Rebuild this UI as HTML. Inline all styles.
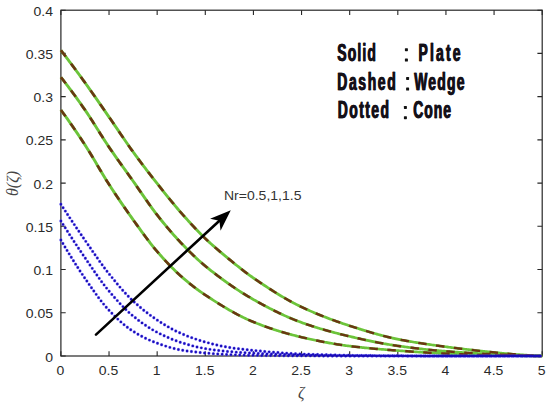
<!DOCTYPE html><html><head><meta charset="utf-8"><style>html,body{margin:0;padding:0;background:#fff;overflow:hidden;}svg{display:block;}</style></head><body><svg width="550" height="407" viewBox="0 0 550 407">
<rect width="550" height="407" fill="#fff"/>
<rect x="60.9" y="10.2" width="481.30" height="345.80" fill="none" stroke="#262626" stroke-width="1.2"/>
<path d="M60.90 356.0 V351.20 M60.90 10.2 V15.00 M109.03 356.0 V351.20 M109.03 10.2 V15.00 M157.16 356.0 V351.20 M157.16 10.2 V15.00 M205.29 356.0 V351.20 M205.29 10.2 V15.00 M253.42 356.0 V351.20 M253.42 10.2 V15.00 M301.55 356.0 V351.20 M301.55 10.2 V15.00 M349.68 356.0 V351.20 M349.68 10.2 V15.00 M397.81 356.0 V351.20 M397.81 10.2 V15.00 M445.94 356.0 V351.20 M445.94 10.2 V15.00 M494.07 356.0 V351.20 M494.07 10.2 V15.00 M542.20 356.0 V351.20 M542.20 10.2 V15.00 M60.9 356.00 H65.70 M542.2 356.00 H537.40 M60.9 312.77 H65.70 M542.2 312.77 H537.40 M60.9 269.55 H65.70 M542.2 269.55 H537.40 M60.9 226.32 H65.70 M542.2 226.32 H537.40 M60.9 183.10 H65.70 M542.2 183.10 H537.40 M60.9 139.88 H65.70 M542.2 139.88 H537.40 M60.9 96.65 H65.70 M542.2 96.65 H537.40 M60.9 53.42 H65.70 M542.2 53.42 H537.40 M60.9 10.20 H65.70 M542.2 10.20 H537.40" stroke="#262626" stroke-width="1.1" fill="none"/>
<g transform="scale(1,0.89)" fill="none">
<path d="M60.90 56.52 L62.11 58.28 L63.31 60.05 L64.52 61.82 L65.73 63.61 L66.93 65.39 L68.14 67.19 L69.34 68.99 L70.55 70.79 L71.76 72.60 L72.96 74.42 L74.17 76.24 L75.38 78.07 L76.58 79.90 L77.79 81.74 L78.99 83.59 L80.20 85.44 L81.41 87.30 L82.61 89.16 L83.82 91.03 L85.03 92.90 L86.23 94.79 L87.44 96.68 L88.64 98.58 L89.85 100.49 L91.06 102.41 L92.26 104.33 L93.47 106.27 L94.68 108.20 L95.88 110.15 L97.09 112.09 L98.29 114.05 L99.50 116.00 L100.71 117.96 L101.91 119.91 L103.12 121.87 L104.33 123.83 L105.53 125.79 L106.74 127.75 L107.94 129.70 L109.15 131.66 L110.36 133.61 L111.56 135.58 L112.77 137.56 L113.98 139.55 L115.18 141.54 L116.39 143.54 L117.59 145.53 L118.80 147.53 L120.01 149.53 L121.21 151.52 L122.42 153.51 L123.63 155.50 L124.83 157.48 L126.04 159.44 L127.24 161.40 L128.45 163.34 L129.66 165.27 L130.86 167.18 L132.07 169.08 L133.28 170.95 L134.48 172.82 L135.69 174.67 L136.89 176.50 L138.10 178.33 L139.31 180.15 L140.51 181.96 L141.72 183.76 L142.93 185.56 L144.13 187.34 L145.34 189.12 L146.54 190.89 L147.75 192.65 L148.96 194.40 L150.16 196.15 L151.37 197.89 L152.58 199.63 L153.78 201.36 L154.99 203.08 L156.19 204.81 L157.40 206.52 L158.61 208.24 L159.81 209.95 L161.02 211.66 L162.23 213.37 L163.43 215.07 L164.64 216.77 L165.85 218.47 L167.05 220.15 L168.26 221.83 L169.46 223.51 L170.67 225.17 L171.88 226.82 L173.08 228.46 L174.29 230.10 L175.50 231.72 L176.70 233.32 L177.91 234.91 L179.11 236.49 L180.32 238.05 L181.53 239.60 L182.73 241.14 L183.94 242.67 L185.15 244.19 L186.35 245.71 L187.56 247.22 L188.76 248.71 L189.97 250.20 L191.18 251.68 L192.38 253.15 L193.59 254.61 L194.80 256.05 L196.00 257.48 L197.21 258.90 L198.41 260.30 L199.62 261.69 L200.83 263.06 L202.03 264.41 L203.24 265.75 L204.45 267.07 L205.65 268.37 L206.86 269.65 L208.06 270.92 L209.27 272.17 L210.48 273.40 L211.68 274.63 L212.89 275.84 L214.10 277.04 L215.30 278.22 L216.51 279.40 L217.71 280.56 L218.92 281.72 L220.13 282.87 L221.33 284.01 L222.54 285.15 L223.75 286.27 L224.95 287.40 L226.16 288.51 L227.36 289.63 L228.57 290.74 L229.78 291.85 L230.98 292.96 L232.19 294.06 L233.40 295.17 L234.60 296.27 L235.81 297.36 L237.01 298.45 L238.22 299.54 L239.43 300.62 L240.63 301.69 L241.84 302.75 L243.05 303.80 L244.25 304.85 L245.46 305.88 L246.66 306.90 L247.87 307.91 L249.08 308.90 L250.28 309.88 L251.49 310.85 L252.70 311.80 L253.90 312.73 L255.11 313.66 L256.32 314.58 L257.52 315.51 L258.73 316.42 L259.93 317.34 L261.14 318.25 L262.35 319.16 L263.55 320.06 L264.76 320.96 L265.97 321.85 L267.17 322.74 L268.38 323.62 L269.58 324.50 L270.79 325.37 L272.00 326.23 L273.20 327.09 L274.41 327.95 L275.62 328.79 L276.82 329.63 L278.03 330.46 L279.23 331.29 L280.44 332.10 L281.65 332.91 L282.85 333.72 L284.06 334.51 L285.27 335.29 L286.47 336.07 L287.68 336.84 L288.88 337.59 L290.09 338.34 L291.30 339.08 L292.50 339.81 L293.71 340.53 L294.92 341.24 L296.12 341.94 L297.33 342.63 L298.53 343.30 L299.74 343.97 L300.95 344.62 L302.15 345.26 L303.36 345.90 L304.57 346.53 L305.77 347.15 L306.98 347.77 L308.18 348.38 L309.39 348.98 L310.60 349.57 L311.80 350.17 L313.01 350.75 L314.22 351.33 L315.42 351.90 L316.63 352.47 L317.83 353.03 L319.04 353.58 L320.25 354.13 L321.45 354.68 L322.66 355.21 L323.87 355.75 L325.07 356.28 L326.28 356.80 L327.48 357.32 L328.69 357.83 L329.90 358.34 L331.10 358.84 L332.31 359.34 L333.52 359.84 L334.72 360.33 L335.93 360.81 L337.13 361.29 L338.34 361.77 L339.55 362.24 L340.75 362.71 L341.96 363.18 L343.17 363.64 L344.37 364.10 L345.58 364.55 L346.78 365.00 L347.99 365.45 L349.20 365.89 L350.40 366.33 L351.61 366.77 L352.82 367.21 L354.02 367.65 L355.23 368.08 L356.44 368.51 L357.64 368.94 L358.85 369.37 L360.05 369.80 L361.26 370.22 L362.47 370.64 L363.67 371.06 L364.88 371.48 L366.09 371.89 L367.29 372.30 L368.50 372.71 L369.70 373.11 L370.91 373.51 L372.12 373.90 L373.32 374.30 L374.53 374.68 L375.74 375.06 L376.94 375.44 L378.15 375.82 L379.35 376.19 L380.56 376.55 L381.77 376.91 L382.97 377.26 L384.18 377.61 L385.39 377.95 L386.59 378.29 L387.80 378.62 L389.00 378.95 L390.21 379.26 L391.42 379.58 L392.62 379.88 L393.83 380.18 L395.04 380.48 L396.24 380.76 L397.45 381.04 L398.65 381.31 L399.86 381.58 L401.07 381.85 L402.27 382.11 L403.48 382.36 L404.69 382.61 L405.89 382.86 L407.10 383.11 L408.30 383.35 L409.51 383.59 L410.72 383.82 L411.92 384.05 L413.13 384.28 L414.34 384.50 L415.54 384.73 L416.75 384.95 L417.95 385.16 L419.16 385.38 L420.37 385.59 L421.57 385.80 L422.78 386.00 L423.99 386.21 L425.19 386.41 L426.40 386.61 L427.60 386.81 L428.81 387.01 L430.02 387.20 L431.22 387.40 L432.43 387.59 L433.64 387.78 L434.84 387.97 L436.05 388.15 L437.25 388.34 L438.46 388.53 L439.67 388.71 L440.87 388.90 L442.08 389.08 L443.29 389.26 L444.49 389.44 L445.70 389.63 L446.91 389.81 L448.11 389.99 L449.32 390.17 L450.52 390.34 L451.73 390.52 L452.94 390.69 L454.14 390.87 L455.35 391.04 L456.56 391.21 L457.76 391.38 L458.97 391.55 L460.17 391.71 L461.38 391.88 L462.59 392.05 L463.79 392.21 L465.00 392.37 L466.21 392.53 L467.41 392.69 L468.62 392.85 L469.82 393.01 L471.03 393.16 L472.24 393.32 L473.44 393.47 L474.65 393.63 L475.86 393.78 L477.06 393.93 L478.27 394.08 L479.47 394.23 L480.68 394.38 L481.89 394.52 L483.09 394.67 L484.30 394.82 L485.51 394.96 L486.71 395.10 L487.92 395.24 L489.12 395.39 L490.33 395.53 L491.54 395.67 L492.74 395.80 L493.95 395.94 L495.16 396.08 L496.36 396.22 L497.57 396.35 L498.77 396.49 L499.98 396.62 L501.19 396.76 L502.39 396.89 L503.60 397.02 L504.81 397.15 L506.01 397.28 L507.22 397.41 L508.42 397.53 L509.63 397.66 L510.84 397.77 L512.04 397.89 L513.25 398.00 L514.46 398.11 L515.66 398.22 L516.87 398.32 L518.07 398.42 L519.28 398.52 L520.49 398.61 L521.69 398.71 L522.90 398.80 L524.11 398.89 L525.31 398.98 L526.52 399.06 L527.72 399.15 L528.93 399.23 L530.14 399.31 L531.34 399.39 L532.55 399.47 L533.76 399.54 L534.96 399.62 L536.17 399.69 L537.37 399.75 L538.58 399.82 L539.79 399.88 L540.99 399.94 L542.20 400.00" stroke="#6cc43a" stroke-width="3.0"/>
<path d="M60.90 86.74 L62.11 88.46 L63.31 90.20 L64.52 91.95 L65.73 93.71 L66.93 95.48 L68.14 97.27 L69.34 99.07 L70.55 100.88 L71.76 102.71 L72.96 104.55 L74.17 106.40 L75.38 108.26 L76.58 110.13 L77.79 112.02 L78.99 113.92 L80.20 115.83 L81.41 117.75 L82.61 119.68 L83.82 121.63 L85.03 123.58 L86.23 125.56 L87.44 127.57 L88.64 129.62 L89.85 131.68 L91.06 133.77 L92.26 135.88 L93.47 138.01 L94.68 140.15 L95.88 142.29 L97.09 144.44 L98.29 146.59 L99.50 148.75 L100.71 150.89 L101.91 153.03 L103.12 155.15 L104.33 157.26 L105.53 159.36 L106.74 161.42 L107.94 163.47 L109.15 165.48 L110.36 167.47 L111.56 169.45 L112.77 171.41 L113.98 173.36 L115.18 175.29 L116.39 177.22 L117.59 179.13 L118.80 181.04 L120.01 182.94 L121.21 184.84 L122.42 186.73 L123.63 188.62 L124.83 190.51 L126.04 192.39 L127.24 194.28 L128.45 196.17 L129.66 198.06 L130.86 199.96 L132.07 201.86 L133.28 203.77 L134.48 205.69 L135.69 207.63 L136.89 209.58 L138.10 211.54 L139.31 213.50 L140.51 215.47 L141.72 217.44 L142.93 219.40 L144.13 221.37 L145.34 223.32 L146.54 225.27 L147.75 227.20 L148.96 229.12 L150.16 231.02 L151.37 232.91 L152.58 234.76 L153.78 236.60 L154.99 238.40 L156.19 240.18 L157.40 241.92 L158.61 243.64 L159.81 245.35 L161.02 247.04 L162.23 248.72 L163.43 250.39 L164.64 252.04 L165.85 253.67 L167.05 255.29 L168.26 256.90 L169.46 258.49 L170.67 260.06 L171.88 261.62 L173.08 263.16 L174.29 264.69 L175.50 266.20 L176.70 267.70 L177.91 269.17 L179.11 270.63 L180.32 272.08 L181.53 273.50 L182.73 274.92 L183.94 276.32 L185.15 277.72 L186.35 279.10 L187.56 280.48 L188.76 281.84 L189.97 283.19 L191.18 284.52 L192.38 285.84 L193.59 287.15 L194.80 288.44 L196.00 289.71 L197.21 290.97 L198.41 292.20 L199.62 293.42 L200.83 294.62 L202.03 295.80 L203.24 296.96 L204.45 298.09 L205.65 299.21 L206.86 300.31 L208.06 301.41 L209.27 302.49 L210.48 303.57 L211.68 304.64 L212.89 305.71 L214.10 306.76 L215.30 307.81 L216.51 308.85 L217.71 309.88 L218.92 310.90 L220.13 311.91 L221.33 312.92 L222.54 313.92 L223.75 314.91 L224.95 315.89 L226.16 316.86 L227.36 317.82 L228.57 318.78 L229.78 319.73 L230.98 320.67 L232.19 321.60 L233.40 322.52 L234.60 323.43 L235.81 324.33 L237.01 325.23 L238.22 326.11 L239.43 326.99 L240.63 327.86 L241.84 328.72 L243.05 329.57 L244.25 330.41 L245.46 331.25 L246.66 332.07 L247.87 332.89 L249.08 333.69 L250.28 334.49 L251.49 335.28 L252.70 336.05 L253.90 336.82 L255.11 337.59 L256.32 338.35 L257.52 339.10 L258.73 339.85 L259.93 340.60 L261.14 341.34 L262.35 342.08 L263.55 342.81 L264.76 343.54 L265.97 344.26 L267.17 344.97 L268.38 345.68 L269.58 346.38 L270.79 347.08 L272.00 347.77 L273.20 348.46 L274.41 349.14 L275.62 349.81 L276.82 350.47 L278.03 351.13 L279.23 351.78 L280.44 352.42 L281.65 353.06 L282.85 353.69 L284.06 354.31 L285.27 354.92 L286.47 355.53 L287.68 356.13 L288.88 356.71 L290.09 357.29 L291.30 357.87 L292.50 358.43 L293.71 358.98 L294.92 359.53 L296.12 360.06 L297.33 360.59 L298.53 361.11 L299.74 361.62 L300.95 362.11 L302.15 362.60 L303.36 363.08 L304.57 363.56 L305.77 364.03 L306.98 364.50 L308.18 364.96 L309.39 365.41 L310.60 365.86 L311.80 366.30 L313.01 366.74 L314.22 367.17 L315.42 367.60 L316.63 368.02 L317.83 368.44 L319.04 368.85 L320.25 369.26 L321.45 369.66 L322.66 370.06 L323.87 370.45 L325.07 370.84 L326.28 371.23 L327.48 371.61 L328.69 371.99 L329.90 372.36 L331.10 372.73 L332.31 373.09 L333.52 373.46 L334.72 373.81 L335.93 374.17 L337.13 374.52 L338.34 374.87 L339.55 375.21 L340.75 375.55 L341.96 375.89 L343.17 376.22 L344.37 376.55 L345.58 376.88 L346.78 377.21 L347.99 377.53 L349.20 377.85 L350.40 378.17 L351.61 378.48 L352.82 378.80 L354.02 379.11 L355.23 379.42 L356.44 379.73 L357.64 380.04 L358.85 380.35 L360.05 380.65 L361.26 380.95 L362.47 381.25 L363.67 381.55 L364.88 381.85 L366.09 382.14 L367.29 382.43 L368.50 382.72 L369.70 383.00 L370.91 383.28 L372.12 383.56 L373.32 383.84 L374.53 384.11 L375.74 384.38 L376.94 384.65 L378.15 384.91 L379.35 385.17 L380.56 385.42 L381.77 385.68 L382.97 385.93 L384.18 386.17 L385.39 386.41 L386.59 386.65 L387.80 386.88 L389.00 387.11 L390.21 387.34 L391.42 387.56 L392.62 387.77 L393.83 387.99 L395.04 388.19 L396.24 388.40 L397.45 388.59 L398.65 388.79 L399.86 388.98 L401.07 389.17 L402.27 389.36 L403.48 389.54 L404.69 389.72 L405.89 389.91 L407.10 390.08 L408.30 390.26 L409.51 390.44 L410.72 390.61 L411.92 390.78 L413.13 390.95 L414.34 391.12 L415.54 391.28 L416.75 391.44 L417.95 391.60 L419.16 391.76 L420.37 391.92 L421.57 392.07 L422.78 392.22 L423.99 392.37 L425.19 392.52 L426.40 392.67 L427.60 392.81 L428.81 392.95 L430.02 393.09 L431.22 393.23 L432.43 393.36 L433.64 393.49 L434.84 393.63 L436.05 393.75 L437.25 393.88 L438.46 394.00 L439.67 394.12 L440.87 394.24 L442.08 394.36 L443.29 394.47 L444.49 394.59 L445.70 394.70 L446.91 394.81 L448.11 394.91 L449.32 395.02 L450.52 395.12 L451.73 395.23 L452.94 395.33 L454.14 395.43 L455.35 395.53 L456.56 395.63 L457.76 395.72 L458.97 395.82 L460.17 395.91 L461.38 396.01 L462.59 396.10 L463.79 396.19 L465.00 396.28 L466.21 396.37 L467.41 396.46 L468.62 396.54 L469.82 396.63 L471.03 396.71 L472.24 396.80 L473.44 396.88 L474.65 396.96 L475.86 397.04 L477.06 397.11 L478.27 397.19 L479.47 397.27 L480.68 397.34 L481.89 397.41 L483.09 397.49 L484.30 397.56 L485.51 397.63 L486.71 397.70 L487.92 397.76 L489.12 397.83 L490.33 397.89 L491.54 397.96 L492.74 398.02 L493.95 398.08 L495.16 398.14 L496.36 398.21 L497.57 398.27 L498.77 398.32 L499.98 398.38 L501.19 398.44 L502.39 398.50 L503.60 398.56 L504.81 398.62 L506.01 398.67 L507.22 398.73 L508.42 398.78 L509.63 398.84 L510.84 398.89 L512.04 398.94 L513.25 399.00 L514.46 399.05 L515.66 399.10 L516.87 399.15 L518.07 399.20 L519.28 399.25 L520.49 399.30 L521.69 399.34 L522.90 399.39 L524.11 399.44 L525.31 399.48 L526.52 399.52 L527.72 399.57 L528.93 399.61 L530.14 399.65 L531.34 399.69 L532.55 399.73 L533.76 399.77 L534.96 399.80 L536.17 399.84 L537.37 399.87 L538.58 399.91 L539.79 399.94 L540.99 399.97 L542.20 400.00" stroke="#6cc43a" stroke-width="3.0"/>
<path d="M60.90 123.60 L62.11 125.44 L63.31 127.30 L64.52 129.17 L65.73 131.05 L66.93 132.95 L68.14 134.86 L69.34 136.78 L70.55 138.71 L71.76 140.66 L72.96 142.63 L74.17 144.60 L75.38 146.59 L76.58 148.59 L77.79 150.60 L78.99 152.62 L80.20 154.65 L81.41 156.70 L82.61 158.76 L83.82 160.83 L85.03 162.91 L86.23 165.02 L87.44 167.17 L88.64 169.34 L89.85 171.55 L91.06 173.78 L92.26 176.02 L93.47 178.29 L94.68 180.57 L95.88 182.85 L97.09 185.14 L98.29 187.43 L99.50 189.72 L100.71 191.99 L101.91 194.26 L103.12 196.51 L104.33 198.75 L105.53 200.95 L106.74 203.14 L107.94 205.29 L109.15 207.40 L110.36 209.49 L111.56 211.57 L112.77 213.64 L113.98 215.70 L115.18 217.75 L116.39 219.78 L117.59 221.80 L118.80 223.82 L120.01 225.82 L121.21 227.81 L122.42 229.79 L123.63 231.76 L124.83 233.71 L126.04 235.66 L127.24 237.60 L128.45 239.53 L129.66 241.44 L130.86 243.35 L132.07 245.25 L133.28 247.14 L134.48 249.02 L135.69 250.91 L136.89 252.80 L138.10 254.68 L139.31 256.56 L140.51 258.43 L141.72 260.29 L142.93 262.15 L144.13 263.99 L145.34 265.81 L146.54 267.63 L147.75 269.42 L148.96 271.19 L150.16 272.94 L151.37 274.67 L152.58 276.38 L153.78 278.05 L154.99 279.70 L156.19 281.32 L157.40 282.90 L158.61 284.46 L159.81 286.01 L161.02 287.54 L162.23 289.06 L163.43 290.57 L164.64 292.05 L165.85 293.52 L167.05 294.97 L168.26 296.41 L169.46 297.82 L170.67 299.22 L171.88 300.60 L173.08 301.95 L174.29 303.29 L175.50 304.61 L176.70 305.90 L177.91 307.18 L179.11 308.43 L180.32 309.66 L181.53 310.86 L182.73 312.05 L183.94 313.22 L185.15 314.38 L186.35 315.52 L187.56 316.65 L188.76 317.76 L189.97 318.85 L191.18 319.94 L192.38 321.00 L193.59 322.05 L194.80 323.09 L196.00 324.11 L197.21 325.11 L198.41 326.10 L199.62 327.08 L200.83 328.04 L202.03 328.98 L203.24 329.91 L204.45 330.83 L205.65 331.73 L206.86 332.62 L208.06 333.52 L209.27 334.40 L210.48 335.29 L211.68 336.16 L212.89 337.04 L214.10 337.91 L215.30 338.77 L216.51 339.63 L217.71 340.49 L218.92 341.33 L220.13 342.17 L221.33 343.01 L222.54 343.84 L223.75 344.66 L224.95 345.47 L226.16 346.28 L227.36 347.07 L228.57 347.86 L229.78 348.64 L230.98 349.42 L232.19 350.18 L233.40 350.93 L234.60 351.67 L235.81 352.41 L237.01 353.13 L238.22 353.84 L239.43 354.55 L240.63 355.24 L241.84 355.92 L243.05 356.58 L244.25 357.24 L245.46 357.88 L246.66 358.51 L247.87 359.13 L249.08 359.73 L250.28 360.33 L251.49 360.90 L252.70 361.47 L253.90 362.02 L255.11 362.56 L256.32 363.09 L257.52 363.62 L258.73 364.15 L259.93 364.66 L261.14 365.17 L262.35 365.68 L263.55 366.18 L264.76 366.67 L265.97 367.15 L267.17 367.63 L268.38 368.11 L269.58 368.58 L270.79 369.04 L272.00 369.49 L273.20 369.94 L274.41 370.39 L275.62 370.82 L276.82 371.26 L278.03 371.68 L279.23 372.10 L280.44 372.52 L281.65 372.93 L282.85 373.33 L284.06 373.73 L285.27 374.12 L286.47 374.51 L287.68 374.89 L288.88 375.26 L290.09 375.63 L291.30 376.00 L292.50 376.36 L293.71 376.71 L294.92 377.06 L296.12 377.40 L297.33 377.74 L298.53 378.07 L299.74 378.40 L300.95 378.72 L302.15 379.03 L303.36 379.35 L304.57 379.66 L305.77 379.97 L306.98 380.27 L308.18 380.58 L309.39 380.88 L310.60 381.17 L311.80 381.47 L313.01 381.76 L314.22 382.05 L315.42 382.33 L316.63 382.62 L317.83 382.90 L319.04 383.17 L320.25 383.44 L321.45 383.71 L322.66 383.98 L323.87 384.24 L325.07 384.50 L326.28 384.75 L327.48 385.00 L328.69 385.25 L329.90 385.49 L331.10 385.73 L332.31 385.97 L333.52 386.20 L334.72 386.43 L335.93 386.65 L337.13 386.87 L338.34 387.08 L339.55 387.29 L340.75 387.50 L341.96 387.70 L343.17 387.90 L344.37 388.09 L345.58 388.28 L346.78 388.46 L347.99 388.64 L349.20 388.81 L350.40 388.98 L351.61 389.14 L352.82 389.30 L354.02 389.46 L355.23 389.62 L356.44 389.78 L357.64 389.93 L358.85 390.08 L360.05 390.22 L361.26 390.37 L362.47 390.51 L363.67 390.65 L364.88 390.79 L366.09 390.92 L367.29 391.06 L368.50 391.19 L369.70 391.32 L370.91 391.45 L372.12 391.57 L373.32 391.70 L374.53 391.82 L375.74 391.94 L376.94 392.06 L378.15 392.18 L379.35 392.29 L380.56 392.41 L381.77 392.52 L382.97 392.63 L384.18 392.74 L385.39 392.85 L386.59 392.96 L387.80 393.07 L389.00 393.18 L390.21 393.28 L391.42 393.39 L392.62 393.49 L393.83 393.60 L395.04 393.70 L396.24 393.80 L397.45 393.90 L398.65 394.00 L399.86 394.10 L401.07 394.20 L402.27 394.30 L403.48 394.40 L404.69 394.50 L405.89 394.60 L407.10 394.70 L408.30 394.79 L409.51 394.89 L410.72 394.98 L411.92 395.08 L413.13 395.17 L414.34 395.26 L415.54 395.35 L416.75 395.44 L417.95 395.53 L419.16 395.62 L420.37 395.71 L421.57 395.80 L422.78 395.88 L423.99 395.97 L425.19 396.05 L426.40 396.13 L427.60 396.22 L428.81 396.30 L430.02 396.38 L431.22 396.45 L432.43 396.53 L433.64 396.61 L434.84 396.68 L436.05 396.75 L437.25 396.83 L438.46 396.90 L439.67 396.97 L440.87 397.03 L442.08 397.10 L443.29 397.17 L444.49 397.23 L445.70 397.29 L446.91 397.35 L448.11 397.41 L449.32 397.47 L450.52 397.53 L451.73 397.59 L452.94 397.65 L454.14 397.71 L455.35 397.77 L456.56 397.83 L457.76 397.88 L458.97 397.94 L460.17 397.99 L461.38 398.05 L462.59 398.10 L463.79 398.16 L465.00 398.21 L466.21 398.26 L467.41 398.32 L468.62 398.37 L469.82 398.42 L471.03 398.47 L472.24 398.51 L473.44 398.56 L474.65 398.61 L475.86 398.65 L477.06 398.70 L478.27 398.74 L479.47 398.79 L480.68 398.83 L481.89 398.87 L483.09 398.91 L484.30 398.95 L485.51 398.98 L486.71 399.02 L487.92 399.05 L489.12 399.09 L490.33 399.12 L491.54 399.15 L492.74 399.18 L493.95 399.21 L495.16 399.24 L496.36 399.27 L497.57 399.29 L498.77 399.32 L499.98 399.35 L501.19 399.38 L502.39 399.40 L503.60 399.43 L504.81 399.45 L506.01 399.48 L507.22 399.51 L508.42 399.53 L509.63 399.56 L510.84 399.58 L512.04 399.60 L513.25 399.63 L514.46 399.65 L515.66 399.67 L516.87 399.70 L518.07 399.72 L519.28 399.74 L520.49 399.76 L521.69 399.78 L522.90 399.80 L524.11 399.82 L525.31 399.83 L526.52 399.85 L527.72 399.87 L528.93 399.88 L530.14 399.90 L531.34 399.91 L532.55 399.92 L533.76 399.94 L534.96 399.95 L536.17 399.96 L537.37 399.97 L538.58 399.98 L539.79 399.99 L540.99 399.99 L542.20 400.00" stroke="#6cc43a" stroke-width="3.0"/>
<path d="M60.90 56.52 L62.11 58.28 L63.31 60.05 L64.52 61.82 L65.73 63.61 L66.93 65.39 L68.14 67.19 L69.34 68.99 L70.55 70.79 L71.76 72.60 L72.96 74.42 L74.17 76.24 L75.38 78.07 L76.58 79.90 L77.79 81.74 L78.99 83.59 L80.20 85.44 L81.41 87.30 L82.61 89.16 L83.82 91.03 L85.03 92.90 L86.23 94.79 L87.44 96.68 L88.64 98.58 L89.85 100.49 L91.06 102.41 L92.26 104.33 L93.47 106.27 L94.68 108.20 L95.88 110.15 L97.09 112.09 L98.29 114.05 L99.50 116.00 L100.71 117.96 L101.91 119.91 L103.12 121.87 L104.33 123.83 L105.53 125.79 L106.74 127.75 L107.94 129.70 L109.15 131.66 L110.36 133.61 L111.56 135.58 L112.77 137.56 L113.98 139.55 L115.18 141.54 L116.39 143.54 L117.59 145.53 L118.80 147.53 L120.01 149.53 L121.21 151.52 L122.42 153.51 L123.63 155.50 L124.83 157.48 L126.04 159.44 L127.24 161.40 L128.45 163.34 L129.66 165.27 L130.86 167.18 L132.07 169.08 L133.28 170.95 L134.48 172.82 L135.69 174.67 L136.89 176.50 L138.10 178.33 L139.31 180.15 L140.51 181.96 L141.72 183.76 L142.93 185.56 L144.13 187.34 L145.34 189.12 L146.54 190.89 L147.75 192.65 L148.96 194.40 L150.16 196.15 L151.37 197.89 L152.58 199.63 L153.78 201.36 L154.99 203.08 L156.19 204.81 L157.40 206.52 L158.61 208.24 L159.81 209.95 L161.02 211.66 L162.23 213.37 L163.43 215.07 L164.64 216.77 L165.85 218.47 L167.05 220.15 L168.26 221.83 L169.46 223.51 L170.67 225.17 L171.88 226.82 L173.08 228.46 L174.29 230.10 L175.50 231.72 L176.70 233.32 L177.91 234.91 L179.11 236.49 L180.32 238.05 L181.53 239.60 L182.73 241.14 L183.94 242.67 L185.15 244.19 L186.35 245.71 L187.56 247.22 L188.76 248.71 L189.97 250.20 L191.18 251.68 L192.38 253.15 L193.59 254.61 L194.80 256.05 L196.00 257.48 L197.21 258.90 L198.41 260.30 L199.62 261.69 L200.83 263.06 L202.03 264.41 L203.24 265.75 L204.45 267.07 L205.65 268.37 L206.86 269.65 L208.06 270.92 L209.27 272.17 L210.48 273.40 L211.68 274.63 L212.89 275.84 L214.10 277.04 L215.30 278.22 L216.51 279.40 L217.71 280.56 L218.92 281.72 L220.13 282.87 L221.33 284.01 L222.54 285.15 L223.75 286.27 L224.95 287.40 L226.16 288.51 L227.36 289.63 L228.57 290.74 L229.78 291.85 L230.98 292.96 L232.19 294.06 L233.40 295.17 L234.60 296.27 L235.81 297.36 L237.01 298.45 L238.22 299.54 L239.43 300.62 L240.63 301.69 L241.84 302.75 L243.05 303.80 L244.25 304.85 L245.46 305.88 L246.66 306.90 L247.87 307.91 L249.08 308.90 L250.28 309.88 L251.49 310.85 L252.70 311.80 L253.90 312.73 L255.11 313.66 L256.32 314.58 L257.52 315.51 L258.73 316.42 L259.93 317.34 L261.14 318.25 L262.35 319.16 L263.55 320.06 L264.76 320.96 L265.97 321.85 L267.17 322.74 L268.38 323.62 L269.58 324.50 L270.79 325.37 L272.00 326.23 L273.20 327.09 L274.41 327.95 L275.62 328.79 L276.82 329.63 L278.03 330.46 L279.23 331.29 L280.44 332.10 L281.65 332.91 L282.85 333.72 L284.06 334.51 L285.27 335.29 L286.47 336.07 L287.68 336.84 L288.88 337.59 L290.09 338.34 L291.30 339.08 L292.50 339.81 L293.71 340.53 L294.92 341.24 L296.12 341.94 L297.33 342.63 L298.53 343.30 L299.74 343.97 L300.95 344.62 L302.15 345.26 L303.36 345.90 L304.57 346.53 L305.77 347.15 L306.98 347.77 L308.18 348.38 L309.39 348.98 L310.60 349.57 L311.80 350.17 L313.01 350.75 L314.22 351.33 L315.42 351.90 L316.63 352.47 L317.83 353.03 L319.04 353.58 L320.25 354.13 L321.45 354.68 L322.66 355.21 L323.87 355.75 L325.07 356.28 L326.28 356.80 L327.48 357.32 L328.69 357.83 L329.90 358.34 L331.10 358.84 L332.31 359.34 L333.52 359.84 L334.72 360.33 L335.93 360.81 L337.13 361.29 L338.34 361.77 L339.55 362.24 L340.75 362.71 L341.96 363.18 L343.17 363.64 L344.37 364.10 L345.58 364.55 L346.78 365.00 L347.99 365.45 L349.20 365.89 L350.40 366.33 L351.61 366.77 L352.82 367.21 L354.02 367.65 L355.23 368.08 L356.44 368.51 L357.64 368.94 L358.85 369.37 L360.05 369.80 L361.26 370.22 L362.47 370.64 L363.67 371.06 L364.88 371.48 L366.09 371.89 L367.29 372.30 L368.50 372.71 L369.70 373.11 L370.91 373.51 L372.12 373.90 L373.32 374.30 L374.53 374.68 L375.74 375.06 L376.94 375.44 L378.15 375.82 L379.35 376.19 L380.56 376.55 L381.77 376.91 L382.97 377.26 L384.18 377.61 L385.39 377.95 L386.59 378.29 L387.80 378.62 L389.00 378.95 L390.21 379.26 L391.42 379.58 L392.62 379.88 L393.83 380.18 L395.04 380.48 L396.24 380.76 L397.45 381.04 L398.65 381.31 L399.86 381.58 L401.07 381.85 L402.27 382.11 L403.48 382.36 L404.69 382.61 L405.89 382.86 L407.10 383.11 L408.30 383.35 L409.51 383.59 L410.72 383.82 L411.92 384.05 L413.13 384.28 L414.34 384.50 L415.54 384.73 L416.75 384.95 L417.95 385.16 L419.16 385.38 L420.37 385.59 L421.57 385.80 L422.78 386.00 L423.99 386.21 L425.19 386.41 L426.40 386.61 L427.60 386.81 L428.81 387.01 L430.02 387.20 L431.22 387.40 L432.43 387.59 L433.64 387.78 L434.84 387.97 L436.05 388.15 L437.25 388.34 L438.46 388.53 L439.67 388.71 L440.87 388.90 L442.08 389.08 L443.29 389.26 L444.49 389.44 L445.70 389.63 L446.91 389.81 L448.11 389.99 L449.32 390.17 L450.52 390.34 L451.73 390.52 L452.94 390.69 L454.14 390.87 L455.35 391.04 L456.56 391.21 L457.76 391.38 L458.97 391.55 L460.17 391.71 L461.38 391.88 L462.59 392.05 L463.79 392.21 L465.00 392.37 L466.21 392.53 L467.41 392.69 L468.62 392.85 L469.82 393.01 L471.03 393.16 L472.24 393.32 L473.44 393.47 L474.65 393.63 L475.86 393.78 L477.06 393.93 L478.27 394.08 L479.47 394.23 L480.68 394.38 L481.89 394.52 L483.09 394.67 L484.30 394.82 L485.51 394.96 L486.71 395.10 L487.92 395.24 L489.12 395.39 L490.33 395.53 L491.54 395.67 L492.74 395.80 L493.95 395.94 L495.16 396.08 L496.36 396.22 L497.57 396.35 L498.77 396.49 L499.98 396.62 L501.19 396.76 L502.39 396.89 L503.60 397.02 L504.81 397.15 L506.01 397.28 L507.22 397.41 L508.42 397.53 L509.63 397.66 L510.84 397.77 L512.04 397.89 L513.25 398.00 L514.46 398.11 L515.66 398.22 L516.87 398.32 L518.07 398.42 L519.28 398.52 L520.49 398.61 L521.69 398.71 L522.90 398.80 L524.11 398.89 L525.31 398.98 L526.52 399.06 L527.72 399.15 L528.93 399.23 L530.14 399.31 L531.34 399.39 L532.55 399.47 L533.76 399.54 L534.96 399.62 L536.17 399.69 L537.37 399.75 L538.58 399.82 L539.79 399.88 L540.99 399.94 L542.20 400.00" stroke="#6a3612" stroke-width="2.7" stroke-dasharray="8.5 9.5"/>
<path d="M60.90 86.74 L62.11 88.46 L63.31 90.20 L64.52 91.95 L65.73 93.71 L66.93 95.48 L68.14 97.27 L69.34 99.07 L70.55 100.88 L71.76 102.71 L72.96 104.55 L74.17 106.40 L75.38 108.26 L76.58 110.13 L77.79 112.02 L78.99 113.92 L80.20 115.83 L81.41 117.75 L82.61 119.68 L83.82 121.63 L85.03 123.58 L86.23 125.56 L87.44 127.57 L88.64 129.62 L89.85 131.68 L91.06 133.77 L92.26 135.88 L93.47 138.01 L94.68 140.15 L95.88 142.29 L97.09 144.44 L98.29 146.59 L99.50 148.75 L100.71 150.89 L101.91 153.03 L103.12 155.15 L104.33 157.26 L105.53 159.36 L106.74 161.42 L107.94 163.47 L109.15 165.48 L110.36 167.47 L111.56 169.45 L112.77 171.41 L113.98 173.36 L115.18 175.29 L116.39 177.22 L117.59 179.13 L118.80 181.04 L120.01 182.94 L121.21 184.84 L122.42 186.73 L123.63 188.62 L124.83 190.51 L126.04 192.39 L127.24 194.28 L128.45 196.17 L129.66 198.06 L130.86 199.96 L132.07 201.86 L133.28 203.77 L134.48 205.69 L135.69 207.63 L136.89 209.58 L138.10 211.54 L139.31 213.50 L140.51 215.47 L141.72 217.44 L142.93 219.40 L144.13 221.37 L145.34 223.32 L146.54 225.27 L147.75 227.20 L148.96 229.12 L150.16 231.02 L151.37 232.91 L152.58 234.76 L153.78 236.60 L154.99 238.40 L156.19 240.18 L157.40 241.92 L158.61 243.64 L159.81 245.35 L161.02 247.04 L162.23 248.72 L163.43 250.39 L164.64 252.04 L165.85 253.67 L167.05 255.29 L168.26 256.90 L169.46 258.49 L170.67 260.06 L171.88 261.62 L173.08 263.16 L174.29 264.69 L175.50 266.20 L176.70 267.70 L177.91 269.17 L179.11 270.63 L180.32 272.08 L181.53 273.50 L182.73 274.92 L183.94 276.32 L185.15 277.72 L186.35 279.10 L187.56 280.48 L188.76 281.84 L189.97 283.19 L191.18 284.52 L192.38 285.84 L193.59 287.15 L194.80 288.44 L196.00 289.71 L197.21 290.97 L198.41 292.20 L199.62 293.42 L200.83 294.62 L202.03 295.80 L203.24 296.96 L204.45 298.09 L205.65 299.21 L206.86 300.31 L208.06 301.41 L209.27 302.49 L210.48 303.57 L211.68 304.64 L212.89 305.71 L214.10 306.76 L215.30 307.81 L216.51 308.85 L217.71 309.88 L218.92 310.90 L220.13 311.91 L221.33 312.92 L222.54 313.92 L223.75 314.91 L224.95 315.89 L226.16 316.86 L227.36 317.82 L228.57 318.78 L229.78 319.73 L230.98 320.67 L232.19 321.60 L233.40 322.52 L234.60 323.43 L235.81 324.33 L237.01 325.23 L238.22 326.11 L239.43 326.99 L240.63 327.86 L241.84 328.72 L243.05 329.57 L244.25 330.41 L245.46 331.25 L246.66 332.07 L247.87 332.89 L249.08 333.69 L250.28 334.49 L251.49 335.28 L252.70 336.05 L253.90 336.82 L255.11 337.59 L256.32 338.35 L257.52 339.10 L258.73 339.85 L259.93 340.60 L261.14 341.34 L262.35 342.08 L263.55 342.81 L264.76 343.54 L265.97 344.26 L267.17 344.97 L268.38 345.68 L269.58 346.38 L270.79 347.08 L272.00 347.77 L273.20 348.46 L274.41 349.14 L275.62 349.81 L276.82 350.47 L278.03 351.13 L279.23 351.78 L280.44 352.42 L281.65 353.06 L282.85 353.69 L284.06 354.31 L285.27 354.92 L286.47 355.53 L287.68 356.13 L288.88 356.71 L290.09 357.29 L291.30 357.87 L292.50 358.43 L293.71 358.98 L294.92 359.53 L296.12 360.06 L297.33 360.59 L298.53 361.11 L299.74 361.62 L300.95 362.11 L302.15 362.60 L303.36 363.08 L304.57 363.56 L305.77 364.03 L306.98 364.50 L308.18 364.96 L309.39 365.41 L310.60 365.86 L311.80 366.30 L313.01 366.74 L314.22 367.17 L315.42 367.60 L316.63 368.02 L317.83 368.44 L319.04 368.85 L320.25 369.26 L321.45 369.66 L322.66 370.06 L323.87 370.45 L325.07 370.84 L326.28 371.23 L327.48 371.61 L328.69 371.99 L329.90 372.36 L331.10 372.73 L332.31 373.09 L333.52 373.46 L334.72 373.81 L335.93 374.17 L337.13 374.52 L338.34 374.87 L339.55 375.21 L340.75 375.55 L341.96 375.89 L343.17 376.22 L344.37 376.55 L345.58 376.88 L346.78 377.21 L347.99 377.53 L349.20 377.85 L350.40 378.17 L351.61 378.48 L352.82 378.80 L354.02 379.11 L355.23 379.42 L356.44 379.73 L357.64 380.04 L358.85 380.35 L360.05 380.65 L361.26 380.95 L362.47 381.25 L363.67 381.55 L364.88 381.85 L366.09 382.14 L367.29 382.43 L368.50 382.72 L369.70 383.00 L370.91 383.28 L372.12 383.56 L373.32 383.84 L374.53 384.11 L375.74 384.38 L376.94 384.65 L378.15 384.91 L379.35 385.17 L380.56 385.42 L381.77 385.68 L382.97 385.93 L384.18 386.17 L385.39 386.41 L386.59 386.65 L387.80 386.88 L389.00 387.11 L390.21 387.34 L391.42 387.56 L392.62 387.77 L393.83 387.99 L395.04 388.19 L396.24 388.40 L397.45 388.59 L398.65 388.79 L399.86 388.98 L401.07 389.17 L402.27 389.36 L403.48 389.54 L404.69 389.72 L405.89 389.91 L407.10 390.08 L408.30 390.26 L409.51 390.44 L410.72 390.61 L411.92 390.78 L413.13 390.95 L414.34 391.12 L415.54 391.28 L416.75 391.44 L417.95 391.60 L419.16 391.76 L420.37 391.92 L421.57 392.07 L422.78 392.22 L423.99 392.37 L425.19 392.52 L426.40 392.67 L427.60 392.81 L428.81 392.95 L430.02 393.09 L431.22 393.23 L432.43 393.36 L433.64 393.49 L434.84 393.63 L436.05 393.75 L437.25 393.88 L438.46 394.00 L439.67 394.12 L440.87 394.24 L442.08 394.36 L443.29 394.47 L444.49 394.59 L445.70 394.70 L446.91 394.81 L448.11 394.91 L449.32 395.02 L450.52 395.12 L451.73 395.23 L452.94 395.33 L454.14 395.43 L455.35 395.53 L456.56 395.63 L457.76 395.72 L458.97 395.82 L460.17 395.91 L461.38 396.01 L462.59 396.10 L463.79 396.19 L465.00 396.28 L466.21 396.37 L467.41 396.46 L468.62 396.54 L469.82 396.63 L471.03 396.71 L472.24 396.80 L473.44 396.88 L474.65 396.96 L475.86 397.04 L477.06 397.11 L478.27 397.19 L479.47 397.27 L480.68 397.34 L481.89 397.41 L483.09 397.49 L484.30 397.56 L485.51 397.63 L486.71 397.70 L487.92 397.76 L489.12 397.83 L490.33 397.89 L491.54 397.96 L492.74 398.02 L493.95 398.08 L495.16 398.14 L496.36 398.21 L497.57 398.27 L498.77 398.32 L499.98 398.38 L501.19 398.44 L502.39 398.50 L503.60 398.56 L504.81 398.62 L506.01 398.67 L507.22 398.73 L508.42 398.78 L509.63 398.84 L510.84 398.89 L512.04 398.94 L513.25 399.00 L514.46 399.05 L515.66 399.10 L516.87 399.15 L518.07 399.20 L519.28 399.25 L520.49 399.30 L521.69 399.34 L522.90 399.39 L524.11 399.44 L525.31 399.48 L526.52 399.52 L527.72 399.57 L528.93 399.61 L530.14 399.65 L531.34 399.69 L532.55 399.73 L533.76 399.77 L534.96 399.80 L536.17 399.84 L537.37 399.87 L538.58 399.91 L539.79 399.94 L540.99 399.97 L542.20 400.00" stroke="#6a3612" stroke-width="2.7" stroke-dasharray="8.5 9.5"/>
<path d="M60.90 123.60 L62.11 125.44 L63.31 127.30 L64.52 129.17 L65.73 131.05 L66.93 132.95 L68.14 134.86 L69.34 136.78 L70.55 138.71 L71.76 140.66 L72.96 142.63 L74.17 144.60 L75.38 146.59 L76.58 148.59 L77.79 150.60 L78.99 152.62 L80.20 154.65 L81.41 156.70 L82.61 158.76 L83.82 160.83 L85.03 162.91 L86.23 165.02 L87.44 167.17 L88.64 169.34 L89.85 171.55 L91.06 173.78 L92.26 176.02 L93.47 178.29 L94.68 180.57 L95.88 182.85 L97.09 185.14 L98.29 187.43 L99.50 189.72 L100.71 191.99 L101.91 194.26 L103.12 196.51 L104.33 198.75 L105.53 200.95 L106.74 203.14 L107.94 205.29 L109.15 207.40 L110.36 209.49 L111.56 211.57 L112.77 213.64 L113.98 215.70 L115.18 217.75 L116.39 219.78 L117.59 221.80 L118.80 223.82 L120.01 225.82 L121.21 227.81 L122.42 229.79 L123.63 231.76 L124.83 233.71 L126.04 235.66 L127.24 237.60 L128.45 239.53 L129.66 241.44 L130.86 243.35 L132.07 245.25 L133.28 247.14 L134.48 249.02 L135.69 250.91 L136.89 252.80 L138.10 254.68 L139.31 256.56 L140.51 258.43 L141.72 260.29 L142.93 262.15 L144.13 263.99 L145.34 265.81 L146.54 267.63 L147.75 269.42 L148.96 271.19 L150.16 272.94 L151.37 274.67 L152.58 276.38 L153.78 278.05 L154.99 279.70 L156.19 281.32 L157.40 282.90 L158.61 284.46 L159.81 286.01 L161.02 287.54 L162.23 289.06 L163.43 290.57 L164.64 292.05 L165.85 293.52 L167.05 294.97 L168.26 296.41 L169.46 297.82 L170.67 299.22 L171.88 300.60 L173.08 301.95 L174.29 303.29 L175.50 304.61 L176.70 305.90 L177.91 307.18 L179.11 308.43 L180.32 309.66 L181.53 310.86 L182.73 312.05 L183.94 313.22 L185.15 314.38 L186.35 315.52 L187.56 316.65 L188.76 317.76 L189.97 318.85 L191.18 319.94 L192.38 321.00 L193.59 322.05 L194.80 323.09 L196.00 324.11 L197.21 325.11 L198.41 326.10 L199.62 327.08 L200.83 328.04 L202.03 328.98 L203.24 329.91 L204.45 330.83 L205.65 331.73 L206.86 332.62 L208.06 333.52 L209.27 334.40 L210.48 335.29 L211.68 336.16 L212.89 337.04 L214.10 337.91 L215.30 338.77 L216.51 339.63 L217.71 340.49 L218.92 341.33 L220.13 342.17 L221.33 343.01 L222.54 343.84 L223.75 344.66 L224.95 345.47 L226.16 346.28 L227.36 347.07 L228.57 347.86 L229.78 348.64 L230.98 349.42 L232.19 350.18 L233.40 350.93 L234.60 351.67 L235.81 352.41 L237.01 353.13 L238.22 353.84 L239.43 354.55 L240.63 355.24 L241.84 355.92 L243.05 356.58 L244.25 357.24 L245.46 357.88 L246.66 358.51 L247.87 359.13 L249.08 359.73 L250.28 360.33 L251.49 360.90 L252.70 361.47 L253.90 362.02 L255.11 362.56 L256.32 363.09 L257.52 363.62 L258.73 364.15 L259.93 364.66 L261.14 365.17 L262.35 365.68 L263.55 366.18 L264.76 366.67 L265.97 367.15 L267.17 367.63 L268.38 368.11 L269.58 368.58 L270.79 369.04 L272.00 369.49 L273.20 369.94 L274.41 370.39 L275.62 370.82 L276.82 371.26 L278.03 371.68 L279.23 372.10 L280.44 372.52 L281.65 372.93 L282.85 373.33 L284.06 373.73 L285.27 374.12 L286.47 374.51 L287.68 374.89 L288.88 375.26 L290.09 375.63 L291.30 376.00 L292.50 376.36 L293.71 376.71 L294.92 377.06 L296.12 377.40 L297.33 377.74 L298.53 378.07 L299.74 378.40 L300.95 378.72 L302.15 379.03 L303.36 379.35 L304.57 379.66 L305.77 379.97 L306.98 380.27 L308.18 380.58 L309.39 380.88 L310.60 381.17 L311.80 381.47 L313.01 381.76 L314.22 382.05 L315.42 382.33 L316.63 382.62 L317.83 382.90 L319.04 383.17 L320.25 383.44 L321.45 383.71 L322.66 383.98 L323.87 384.24 L325.07 384.50 L326.28 384.75 L327.48 385.00 L328.69 385.25 L329.90 385.49 L331.10 385.73 L332.31 385.97 L333.52 386.20 L334.72 386.43 L335.93 386.65 L337.13 386.87 L338.34 387.08 L339.55 387.29 L340.75 387.50 L341.96 387.70 L343.17 387.90 L344.37 388.09 L345.58 388.28 L346.78 388.46 L347.99 388.64 L349.20 388.81 L350.40 388.98 L351.61 389.14 L352.82 389.30 L354.02 389.46 L355.23 389.62 L356.44 389.78 L357.64 389.93 L358.85 390.08 L360.05 390.22 L361.26 390.37 L362.47 390.51 L363.67 390.65 L364.88 390.79 L366.09 390.92 L367.29 391.06 L368.50 391.19 L369.70 391.32 L370.91 391.45 L372.12 391.57 L373.32 391.70 L374.53 391.82 L375.74 391.94 L376.94 392.06 L378.15 392.18 L379.35 392.29 L380.56 392.41 L381.77 392.52 L382.97 392.63 L384.18 392.74 L385.39 392.85 L386.59 392.96 L387.80 393.07 L389.00 393.18 L390.21 393.28 L391.42 393.39 L392.62 393.49 L393.83 393.60 L395.04 393.70 L396.24 393.80 L397.45 393.90 L398.65 394.00 L399.86 394.10 L401.07 394.20 L402.27 394.30 L403.48 394.40 L404.69 394.50 L405.89 394.60 L407.10 394.70 L408.30 394.79 L409.51 394.89 L410.72 394.98 L411.92 395.08 L413.13 395.17 L414.34 395.26 L415.54 395.35 L416.75 395.44 L417.95 395.53 L419.16 395.62 L420.37 395.71 L421.57 395.80 L422.78 395.88 L423.99 395.97 L425.19 396.05 L426.40 396.13 L427.60 396.22 L428.81 396.30 L430.02 396.38 L431.22 396.45 L432.43 396.53 L433.64 396.61 L434.84 396.68 L436.05 396.75 L437.25 396.83 L438.46 396.90 L439.67 396.97 L440.87 397.03 L442.08 397.10 L443.29 397.17 L444.49 397.23 L445.70 397.29 L446.91 397.35 L448.11 397.41 L449.32 397.47 L450.52 397.53 L451.73 397.59 L452.94 397.65 L454.14 397.71 L455.35 397.77 L456.56 397.83 L457.76 397.88 L458.97 397.94 L460.17 397.99 L461.38 398.05 L462.59 398.10 L463.79 398.16 L465.00 398.21 L466.21 398.26 L467.41 398.32 L468.62 398.37 L469.82 398.42 L471.03 398.47 L472.24 398.51 L473.44 398.56 L474.65 398.61 L475.86 398.65 L477.06 398.70 L478.27 398.74 L479.47 398.79 L480.68 398.83 L481.89 398.87 L483.09 398.91 L484.30 398.95 L485.51 398.98 L486.71 399.02 L487.92 399.05 L489.12 399.09 L490.33 399.12 L491.54 399.15 L492.74 399.18 L493.95 399.21 L495.16 399.24 L496.36 399.27 L497.57 399.29 L498.77 399.32 L499.98 399.35 L501.19 399.38 L502.39 399.40 L503.60 399.43 L504.81 399.45 L506.01 399.48 L507.22 399.51 L508.42 399.53 L509.63 399.56 L510.84 399.58 L512.04 399.60 L513.25 399.63 L514.46 399.65 L515.66 399.67 L516.87 399.70 L518.07 399.72 L519.28 399.74 L520.49 399.76 L521.69 399.78 L522.90 399.80 L524.11 399.82 L525.31 399.83 L526.52 399.85 L527.72 399.87 L528.93 399.88 L530.14 399.90 L531.34 399.91 L532.55 399.92 L533.76 399.94 L534.96 399.95 L536.17 399.96 L537.37 399.97 L538.58 399.98 L539.79 399.99 L540.99 399.99 L542.20 400.00" stroke="#6a3612" stroke-width="2.7" stroke-dasharray="8.5 9.5"/>
</g>
<path d="M59.20 204.30a1.7 1.7 0 1 0 3.4 0a1.7 1.7 0 1 0 -3.4 0M61.41 207.70a1.7 1.7 0 1 0 3.4 0a1.7 1.7 0 1 0 -3.4 0M63.63 211.09a1.7 1.7 0 1 0 3.4 0a1.7 1.7 0 1 0 -3.4 0M65.86 214.47a1.7 1.7 0 1 0 3.4 0a1.7 1.7 0 1 0 -3.4 0M68.10 217.85a1.7 1.7 0 1 0 3.4 0a1.7 1.7 0 1 0 -3.4 0M70.35 221.23a1.7 1.7 0 1 0 3.4 0a1.7 1.7 0 1 0 -3.4 0M72.61 224.60a1.7 1.7 0 1 0 3.4 0a1.7 1.7 0 1 0 -3.4 0M74.88 227.96a1.7 1.7 0 1 0 3.4 0a1.7 1.7 0 1 0 -3.4 0M77.16 231.32a1.7 1.7 0 1 0 3.4 0a1.7 1.7 0 1 0 -3.4 0M79.46 234.68a1.7 1.7 0 1 0 3.4 0a1.7 1.7 0 1 0 -3.4 0M81.76 238.02a1.7 1.7 0 1 0 3.4 0a1.7 1.7 0 1 0 -3.4 0M84.07 241.37a1.7 1.7 0 1 0 3.4 0a1.7 1.7 0 1 0 -3.4 0M86.38 244.71a1.7 1.7 0 1 0 3.4 0a1.7 1.7 0 1 0 -3.4 0M88.68 248.06a1.7 1.7 0 1 0 3.4 0a1.7 1.7 0 1 0 -3.4 0M90.99 251.40a1.7 1.7 0 1 0 3.4 0a1.7 1.7 0 1 0 -3.4 0M93.31 254.74a1.7 1.7 0 1 0 3.4 0a1.7 1.7 0 1 0 -3.4 0M95.64 258.07a1.7 1.7 0 1 0 3.4 0a1.7 1.7 0 1 0 -3.4 0M98.00 261.39a1.7 1.7 0 1 0 3.4 0a1.7 1.7 0 1 0 -3.4 0M100.39 264.69a1.7 1.7 0 1 0 3.4 0a1.7 1.7 0 1 0 -3.4 0M102.81 267.96a1.7 1.7 0 1 0 3.4 0a1.7 1.7 0 1 0 -3.4 0M105.29 271.21a1.7 1.7 0 1 0 3.4 0a1.7 1.7 0 1 0 -3.4 0M107.83 274.42a1.7 1.7 0 1 0 3.4 0a1.7 1.7 0 1 0 -3.4 0M110.40 277.61a1.7 1.7 0 1 0 3.4 0a1.7 1.7 0 1 0 -3.4 0M112.99 280.79a1.7 1.7 0 1 0 3.4 0a1.7 1.7 0 1 0 -3.4 0M115.60 283.95a1.7 1.7 0 1 0 3.4 0a1.7 1.7 0 1 0 -3.4 0M118.26 287.08a1.7 1.7 0 1 0 3.4 0a1.7 1.7 0 1 0 -3.4 0M120.96 290.18a1.7 1.7 0 1 0 3.4 0a1.7 1.7 0 1 0 -3.4 0M123.72 293.24a1.7 1.7 0 1 0 3.4 0a1.7 1.7 0 1 0 -3.4 0M126.56 296.25a1.7 1.7 0 1 0 3.4 0a1.7 1.7 0 1 0 -3.4 0M129.49 299.18a1.7 1.7 0 1 0 3.4 0a1.7 1.7 0 1 0 -3.4 0M132.52 302.04a1.7 1.7 0 1 0 3.4 0a1.7 1.7 0 1 0 -3.4 0M135.62 304.82a1.7 1.7 0 1 0 3.4 0a1.7 1.7 0 1 0 -3.4 0M138.79 307.55a1.7 1.7 0 1 0 3.4 0a1.7 1.7 0 1 0 -3.4 0M142.03 310.21a1.7 1.7 0 1 0 3.4 0a1.7 1.7 0 1 0 -3.4 0M145.34 312.81a1.7 1.7 0 1 0 3.4 0a1.7 1.7 0 1 0 -3.4 0M148.72 315.33a1.7 1.7 0 1 0 3.4 0a1.7 1.7 0 1 0 -3.4 0M152.16 317.78a1.7 1.7 0 1 0 3.4 0a1.7 1.7 0 1 0 -3.4 0M155.68 320.15a1.7 1.7 0 1 0 3.4 0a1.7 1.7 0 1 0 -3.4 0M159.26 322.45a1.7 1.7 0 1 0 3.4 0a1.7 1.7 0 1 0 -3.4 0M162.87 324.70a1.7 1.7 0 1 0 3.4 0a1.7 1.7 0 1 0 -3.4 0M166.54 326.87a1.7 1.7 0 1 0 3.4 0a1.7 1.7 0 1 0 -3.4 0M170.27 328.96a1.7 1.7 0 1 0 3.4 0a1.7 1.7 0 1 0 -3.4 0M174.08 330.95a1.7 1.7 0 1 0 3.4 0a1.7 1.7 0 1 0 -3.4 0M177.96 332.81a1.7 1.7 0 1 0 3.4 0a1.7 1.7 0 1 0 -3.4 0M181.93 334.52a1.7 1.7 0 1 0 3.4 0a1.7 1.7 0 1 0 -3.4 0M185.94 336.14a1.7 1.7 0 1 0 3.4 0a1.7 1.7 0 1 0 -3.4 0M190.01 337.67a1.7 1.7 0 1 0 3.4 0a1.7 1.7 0 1 0 -3.4 0M194.11 339.10a1.7 1.7 0 1 0 3.4 0a1.7 1.7 0 1 0 -3.4 0M198.26 340.44a1.7 1.7 0 1 0 3.4 0a1.7 1.7 0 1 0 -3.4 0M202.44 341.68a1.7 1.7 0 1 0 3.4 0a1.7 1.7 0 1 0 -3.4 0M206.66 342.84a1.7 1.7 0 1 0 3.4 0a1.7 1.7 0 1 0 -3.4 0M210.88 343.95a1.7 1.7 0 1 0 3.4 0a1.7 1.7 0 1 0 -3.4 0M215.14 345.00a1.7 1.7 0 1 0 3.4 0a1.7 1.7 0 1 0 -3.4 0M219.41 345.96a1.7 1.7 0 1 0 3.4 0a1.7 1.7 0 1 0 -3.4 0M223.71 346.82a1.7 1.7 0 1 0 3.4 0a1.7 1.7 0 1 0 -3.4 0M228.04 347.56a1.7 1.7 0 1 0 3.4 0a1.7 1.7 0 1 0 -3.4 0M232.39 348.20a1.7 1.7 0 1 0 3.4 0a1.7 1.7 0 1 0 -3.4 0M236.76 348.78a1.7 1.7 0 1 0 3.4 0a1.7 1.7 0 1 0 -3.4 0M241.13 349.31a1.7 1.7 0 1 0 3.4 0a1.7 1.7 0 1 0 -3.4 0M245.50 349.78a1.7 1.7 0 1 0 3.4 0a1.7 1.7 0 1 0 -3.4 0M249.89 350.22a1.7 1.7 0 1 0 3.4 0a1.7 1.7 0 1 0 -3.4 0M254.27 350.64a1.7 1.7 0 1 0 3.4 0a1.7 1.7 0 1 0 -3.4 0M258.66 351.05a1.7 1.7 0 1 0 3.4 0a1.7 1.7 0 1 0 -3.4 0M263.04 351.45a1.7 1.7 0 1 0 3.4 0a1.7 1.7 0 1 0 -3.4 0M267.43 351.84a1.7 1.7 0 1 0 3.4 0a1.7 1.7 0 1 0 -3.4 0M271.82 352.21a1.7 1.7 0 1 0 3.4 0a1.7 1.7 0 1 0 -3.4 0M276.21 352.56a1.7 1.7 0 1 0 3.4 0a1.7 1.7 0 1 0 -3.4 0M280.61 352.90a1.7 1.7 0 1 0 3.4 0a1.7 1.7 0 1 0 -3.4 0M285.00 353.20a1.7 1.7 0 1 0 3.4 0a1.7 1.7 0 1 0 -3.4 0M289.40 353.48a1.7 1.7 0 1 0 3.4 0a1.7 1.7 0 1 0 -3.4 0M293.80 353.72a1.7 1.7 0 1 0 3.4 0a1.7 1.7 0 1 0 -3.4 0M298.21 353.93a1.7 1.7 0 1 0 3.4 0a1.7 1.7 0 1 0 -3.4 0M302.61 354.11a1.7 1.7 0 1 0 3.4 0a1.7 1.7 0 1 0 -3.4 0M307.02 354.27a1.7 1.7 0 1 0 3.4 0a1.7 1.7 0 1 0 -3.4 0M311.43 354.42a1.7 1.7 0 1 0 3.4 0a1.7 1.7 0 1 0 -3.4 0M315.83 354.56a1.7 1.7 0 1 0 3.4 0a1.7 1.7 0 1 0 -3.4 0M320.24 354.70a1.7 1.7 0 1 0 3.4 0a1.7 1.7 0 1 0 -3.4 0M324.65 354.82a1.7 1.7 0 1 0 3.4 0a1.7 1.7 0 1 0 -3.4 0M329.06 354.93a1.7 1.7 0 1 0 3.4 0a1.7 1.7 0 1 0 -3.4 0M333.47 355.03a1.7 1.7 0 1 0 3.4 0a1.7 1.7 0 1 0 -3.4 0M337.88 355.12a1.7 1.7 0 1 0 3.4 0a1.7 1.7 0 1 0 -3.4 0M342.28 355.21a1.7 1.7 0 1 0 3.4 0a1.7 1.7 0 1 0 -3.4 0M346.69 355.28a1.7 1.7 0 1 0 3.4 0a1.7 1.7 0 1 0 -3.4 0M351.10 355.35a1.7 1.7 0 1 0 3.4 0a1.7 1.7 0 1 0 -3.4 0M355.51 355.41a1.7 1.7 0 1 0 3.4 0a1.7 1.7 0 1 0 -3.4 0M359.92 355.47a1.7 1.7 0 1 0 3.4 0a1.7 1.7 0 1 0 -3.4 0M364.33 355.52a1.7 1.7 0 1 0 3.4 0a1.7 1.7 0 1 0 -3.4 0M368.74 355.57a1.7 1.7 0 1 0 3.4 0a1.7 1.7 0 1 0 -3.4 0M373.15 355.62a1.7 1.7 0 1 0 3.4 0a1.7 1.7 0 1 0 -3.4 0M377.56 355.66a1.7 1.7 0 1 0 3.4 0a1.7 1.7 0 1 0 -3.4 0M381.97 355.70a1.7 1.7 0 1 0 3.4 0a1.7 1.7 0 1 0 -3.4 0M386.38 355.73a1.7 1.7 0 1 0 3.4 0a1.7 1.7 0 1 0 -3.4 0M390.79 355.77a1.7 1.7 0 1 0 3.4 0a1.7 1.7 0 1 0 -3.4 0M395.20 355.79a1.7 1.7 0 1 0 3.4 0a1.7 1.7 0 1 0 -3.4 0M399.61 355.82a1.7 1.7 0 1 0 3.4 0a1.7 1.7 0 1 0 -3.4 0M404.02 355.85a1.7 1.7 0 1 0 3.4 0a1.7 1.7 0 1 0 -3.4 0M408.43 355.87a1.7 1.7 0 1 0 3.4 0a1.7 1.7 0 1 0 -3.4 0M412.84 355.90a1.7 1.7 0 1 0 3.4 0a1.7 1.7 0 1 0 -3.4 0M417.25 355.92a1.7 1.7 0 1 0 3.4 0a1.7 1.7 0 1 0 -3.4 0M421.66 355.94a1.7 1.7 0 1 0 3.4 0a1.7 1.7 0 1 0 -3.4 0M426.07 355.96a1.7 1.7 0 1 0 3.4 0a1.7 1.7 0 1 0 -3.4 0M430.48 355.98a1.7 1.7 0 1 0 3.4 0a1.7 1.7 0 1 0 -3.4 0M434.89 355.99a1.7 1.7 0 1 0 3.4 0a1.7 1.7 0 1 0 -3.4 0M439.30 356.00a1.7 1.7 0 1 0 3.4 0a1.7 1.7 0 1 0 -3.4 0M443.71 356.00a1.7 1.7 0 1 0 3.4 0a1.7 1.7 0 1 0 -3.4 0M448.12 356.00a1.7 1.7 0 1 0 3.4 0a1.7 1.7 0 1 0 -3.4 0M452.53 356.00a1.7 1.7 0 1 0 3.4 0a1.7 1.7 0 1 0 -3.4 0M456.94 356.00a1.7 1.7 0 1 0 3.4 0a1.7 1.7 0 1 0 -3.4 0M461.35 356.00a1.7 1.7 0 1 0 3.4 0a1.7 1.7 0 1 0 -3.4 0M465.76 356.00a1.7 1.7 0 1 0 3.4 0a1.7 1.7 0 1 0 -3.4 0M470.17 356.00a1.7 1.7 0 1 0 3.4 0a1.7 1.7 0 1 0 -3.4 0M474.58 356.00a1.7 1.7 0 1 0 3.4 0a1.7 1.7 0 1 0 -3.4 0M478.99 356.00a1.7 1.7 0 1 0 3.4 0a1.7 1.7 0 1 0 -3.4 0M483.40 356.00a1.7 1.7 0 1 0 3.4 0a1.7 1.7 0 1 0 -3.4 0M487.81 356.00a1.7 1.7 0 1 0 3.4 0a1.7 1.7 0 1 0 -3.4 0M492.22 356.00a1.7 1.7 0 1 0 3.4 0a1.7 1.7 0 1 0 -3.4 0M496.63 356.00a1.7 1.7 0 1 0 3.4 0a1.7 1.7 0 1 0 -3.4 0M501.04 356.00a1.7 1.7 0 1 0 3.4 0a1.7 1.7 0 1 0 -3.4 0M505.45 356.00a1.7 1.7 0 1 0 3.4 0a1.7 1.7 0 1 0 -3.4 0M509.86 356.00a1.7 1.7 0 1 0 3.4 0a1.7 1.7 0 1 0 -3.4 0M514.27 356.00a1.7 1.7 0 1 0 3.4 0a1.7 1.7 0 1 0 -3.4 0M518.68 356.00a1.7 1.7 0 1 0 3.4 0a1.7 1.7 0 1 0 -3.4 0M523.09 356.00a1.7 1.7 0 1 0 3.4 0a1.7 1.7 0 1 0 -3.4 0M527.50 356.00a1.7 1.7 0 1 0 3.4 0a1.7 1.7 0 1 0 -3.4 0M531.91 356.00a1.7 1.7 0 1 0 3.4 0a1.7 1.7 0 1 0 -3.4 0M536.32 356.00a1.7 1.7 0 1 0 3.4 0a1.7 1.7 0 1 0 -3.4 0M59.20 221.00a1.7 1.7 0 1 0 3.4 0a1.7 1.7 0 1 0 -3.4 0M61.36 224.42a1.7 1.7 0 1 0 3.4 0a1.7 1.7 0 1 0 -3.4 0M63.53 227.84a1.7 1.7 0 1 0 3.4 0a1.7 1.7 0 1 0 -3.4 0M65.71 231.25a1.7 1.7 0 1 0 3.4 0a1.7 1.7 0 1 0 -3.4 0M67.90 234.66a1.7 1.7 0 1 0 3.4 0a1.7 1.7 0 1 0 -3.4 0M70.11 238.05a1.7 1.7 0 1 0 3.4 0a1.7 1.7 0 1 0 -3.4 0M72.33 241.44a1.7 1.7 0 1 0 3.4 0a1.7 1.7 0 1 0 -3.4 0M74.57 244.83a1.7 1.7 0 1 0 3.4 0a1.7 1.7 0 1 0 -3.4 0M76.82 248.20a1.7 1.7 0 1 0 3.4 0a1.7 1.7 0 1 0 -3.4 0M79.08 251.57a1.7 1.7 0 1 0 3.4 0a1.7 1.7 0 1 0 -3.4 0M81.37 254.93a1.7 1.7 0 1 0 3.4 0a1.7 1.7 0 1 0 -3.4 0M83.66 258.28a1.7 1.7 0 1 0 3.4 0a1.7 1.7 0 1 0 -3.4 0M85.96 261.63a1.7 1.7 0 1 0 3.4 0a1.7 1.7 0 1 0 -3.4 0M88.25 264.98a1.7 1.7 0 1 0 3.4 0a1.7 1.7 0 1 0 -3.4 0M90.54 268.34a1.7 1.7 0 1 0 3.4 0a1.7 1.7 0 1 0 -3.4 0M92.84 271.68a1.7 1.7 0 1 0 3.4 0a1.7 1.7 0 1 0 -3.4 0M95.17 275.02a1.7 1.7 0 1 0 3.4 0a1.7 1.7 0 1 0 -3.4 0M97.52 278.34a1.7 1.7 0 1 0 3.4 0a1.7 1.7 0 1 0 -3.4 0M99.92 281.63a1.7 1.7 0 1 0 3.4 0a1.7 1.7 0 1 0 -3.4 0M102.37 284.90a1.7 1.7 0 1 0 3.4 0a1.7 1.7 0 1 0 -3.4 0M104.88 288.12a1.7 1.7 0 1 0 3.4 0a1.7 1.7 0 1 0 -3.4 0M107.49 291.29a1.7 1.7 0 1 0 3.4 0a1.7 1.7 0 1 0 -3.4 0M110.15 294.42a1.7 1.7 0 1 0 3.4 0a1.7 1.7 0 1 0 -3.4 0M112.85 297.52a1.7 1.7 0 1 0 3.4 0a1.7 1.7 0 1 0 -3.4 0M115.60 300.59a1.7 1.7 0 1 0 3.4 0a1.7 1.7 0 1 0 -3.4 0M118.39 303.63a1.7 1.7 0 1 0 3.4 0a1.7 1.7 0 1 0 -3.4 0M121.25 306.61a1.7 1.7 0 1 0 3.4 0a1.7 1.7 0 1 0 -3.4 0M124.19 309.54a1.7 1.7 0 1 0 3.4 0a1.7 1.7 0 1 0 -3.4 0M127.22 312.39a1.7 1.7 0 1 0 3.4 0a1.7 1.7 0 1 0 -3.4 0M130.37 315.14a1.7 1.7 0 1 0 3.4 0a1.7 1.7 0 1 0 -3.4 0M133.62 317.79a1.7 1.7 0 1 0 3.4 0a1.7 1.7 0 1 0 -3.4 0M136.94 320.37a1.7 1.7 0 1 0 3.4 0a1.7 1.7 0 1 0 -3.4 0M140.34 322.88a1.7 1.7 0 1 0 3.4 0a1.7 1.7 0 1 0 -3.4 0M143.81 325.30a1.7 1.7 0 1 0 3.4 0a1.7 1.7 0 1 0 -3.4 0M147.36 327.63a1.7 1.7 0 1 0 3.4 0a1.7 1.7 0 1 0 -3.4 0M151.00 329.84a1.7 1.7 0 1 0 3.4 0a1.7 1.7 0 1 0 -3.4 0M154.74 331.92a1.7 1.7 0 1 0 3.4 0a1.7 1.7 0 1 0 -3.4 0M158.56 333.88a1.7 1.7 0 1 0 3.4 0a1.7 1.7 0 1 0 -3.4 0M162.44 335.75a1.7 1.7 0 1 0 3.4 0a1.7 1.7 0 1 0 -3.4 0M166.37 337.53a1.7 1.7 0 1 0 3.4 0a1.7 1.7 0 1 0 -3.4 0M170.36 339.20a1.7 1.7 0 1 0 3.4 0a1.7 1.7 0 1 0 -3.4 0M174.41 340.75a1.7 1.7 0 1 0 3.4 0a1.7 1.7 0 1 0 -3.4 0M178.52 342.18a1.7 1.7 0 1 0 3.4 0a1.7 1.7 0 1 0 -3.4 0M182.68 343.48a1.7 1.7 0 1 0 3.4 0a1.7 1.7 0 1 0 -3.4 0M186.86 344.72a1.7 1.7 0 1 0 3.4 0a1.7 1.7 0 1 0 -3.4 0M191.08 345.88a1.7 1.7 0 1 0 3.4 0a1.7 1.7 0 1 0 -3.4 0M195.32 346.93a1.7 1.7 0 1 0 3.4 0a1.7 1.7 0 1 0 -3.4 0M199.61 347.86a1.7 1.7 0 1 0 3.4 0a1.7 1.7 0 1 0 -3.4 0M203.93 348.66a1.7 1.7 0 1 0 3.4 0a1.7 1.7 0 1 0 -3.4 0M208.27 349.34a1.7 1.7 0 1 0 3.4 0a1.7 1.7 0 1 0 -3.4 0M212.62 349.96a1.7 1.7 0 1 0 3.4 0a1.7 1.7 0 1 0 -3.4 0M216.99 350.51a1.7 1.7 0 1 0 3.4 0a1.7 1.7 0 1 0 -3.4 0M221.36 351.00a1.7 1.7 0 1 0 3.4 0a1.7 1.7 0 1 0 -3.4 0M225.75 351.43a1.7 1.7 0 1 0 3.4 0a1.7 1.7 0 1 0 -3.4 0M230.14 351.81a1.7 1.7 0 1 0 3.4 0a1.7 1.7 0 1 0 -3.4 0M234.53 352.15a1.7 1.7 0 1 0 3.4 0a1.7 1.7 0 1 0 -3.4 0M238.93 352.46a1.7 1.7 0 1 0 3.4 0a1.7 1.7 0 1 0 -3.4 0M243.33 352.74a1.7 1.7 0 1 0 3.4 0a1.7 1.7 0 1 0 -3.4 0M247.73 352.99a1.7 1.7 0 1 0 3.4 0a1.7 1.7 0 1 0 -3.4 0M252.13 353.22a1.7 1.7 0 1 0 3.4 0a1.7 1.7 0 1 0 -3.4 0M256.53 353.43a1.7 1.7 0 1 0 3.4 0a1.7 1.7 0 1 0 -3.4 0M260.94 353.64a1.7 1.7 0 1 0 3.4 0a1.7 1.7 0 1 0 -3.4 0M265.34 353.84a1.7 1.7 0 1 0 3.4 0a1.7 1.7 0 1 0 -3.4 0M269.75 354.03a1.7 1.7 0 1 0 3.4 0a1.7 1.7 0 1 0 -3.4 0M274.15 354.21a1.7 1.7 0 1 0 3.4 0a1.7 1.7 0 1 0 -3.4 0M278.56 354.38a1.7 1.7 0 1 0 3.4 0a1.7 1.7 0 1 0 -3.4 0M282.96 354.53a1.7 1.7 0 1 0 3.4 0a1.7 1.7 0 1 0 -3.4 0M287.37 354.67a1.7 1.7 0 1 0 3.4 0a1.7 1.7 0 1 0 -3.4 0M291.78 354.80a1.7 1.7 0 1 0 3.4 0a1.7 1.7 0 1 0 -3.4 0M296.19 354.92a1.7 1.7 0 1 0 3.4 0a1.7 1.7 0 1 0 -3.4 0M300.59 355.02a1.7 1.7 0 1 0 3.4 0a1.7 1.7 0 1 0 -3.4 0M305.00 355.11a1.7 1.7 0 1 0 3.4 0a1.7 1.7 0 1 0 -3.4 0M309.41 355.19a1.7 1.7 0 1 0 3.4 0a1.7 1.7 0 1 0 -3.4 0M313.82 355.27a1.7 1.7 0 1 0 3.4 0a1.7 1.7 0 1 0 -3.4 0M318.23 355.35a1.7 1.7 0 1 0 3.4 0a1.7 1.7 0 1 0 -3.4 0M322.64 355.42a1.7 1.7 0 1 0 3.4 0a1.7 1.7 0 1 0 -3.4 0M327.05 355.48a1.7 1.7 0 1 0 3.4 0a1.7 1.7 0 1 0 -3.4 0M331.46 355.54a1.7 1.7 0 1 0 3.4 0a1.7 1.7 0 1 0 -3.4 0M335.87 355.59a1.7 1.7 0 1 0 3.4 0a1.7 1.7 0 1 0 -3.4 0M340.28 355.64a1.7 1.7 0 1 0 3.4 0a1.7 1.7 0 1 0 -3.4 0M344.69 355.68a1.7 1.7 0 1 0 3.4 0a1.7 1.7 0 1 0 -3.4 0M349.10 355.71a1.7 1.7 0 1 0 3.4 0a1.7 1.7 0 1 0 -3.4 0M353.51 355.73a1.7 1.7 0 1 0 3.4 0a1.7 1.7 0 1 0 -3.4 0M357.92 355.76a1.7 1.7 0 1 0 3.4 0a1.7 1.7 0 1 0 -3.4 0M362.33 355.78a1.7 1.7 0 1 0 3.4 0a1.7 1.7 0 1 0 -3.4 0M366.74 355.80a1.7 1.7 0 1 0 3.4 0a1.7 1.7 0 1 0 -3.4 0M371.15 355.82a1.7 1.7 0 1 0 3.4 0a1.7 1.7 0 1 0 -3.4 0M375.56 355.84a1.7 1.7 0 1 0 3.4 0a1.7 1.7 0 1 0 -3.4 0M379.97 355.85a1.7 1.7 0 1 0 3.4 0a1.7 1.7 0 1 0 -3.4 0M384.38 355.87a1.7 1.7 0 1 0 3.4 0a1.7 1.7 0 1 0 -3.4 0M388.79 355.88a1.7 1.7 0 1 0 3.4 0a1.7 1.7 0 1 0 -3.4 0M393.20 355.89a1.7 1.7 0 1 0 3.4 0a1.7 1.7 0 1 0 -3.4 0M397.61 355.90a1.7 1.7 0 1 0 3.4 0a1.7 1.7 0 1 0 -3.4 0M402.02 355.92a1.7 1.7 0 1 0 3.4 0a1.7 1.7 0 1 0 -3.4 0M406.43 355.93a1.7 1.7 0 1 0 3.4 0a1.7 1.7 0 1 0 -3.4 0M410.84 355.94a1.7 1.7 0 1 0 3.4 0a1.7 1.7 0 1 0 -3.4 0M415.25 355.95a1.7 1.7 0 1 0 3.4 0a1.7 1.7 0 1 0 -3.4 0M419.66 355.97a1.7 1.7 0 1 0 3.4 0a1.7 1.7 0 1 0 -3.4 0M424.07 355.98a1.7 1.7 0 1 0 3.4 0a1.7 1.7 0 1 0 -3.4 0M428.48 355.98a1.7 1.7 0 1 0 3.4 0a1.7 1.7 0 1 0 -3.4 0M432.89 355.99a1.7 1.7 0 1 0 3.4 0a1.7 1.7 0 1 0 -3.4 0M437.30 356.00a1.7 1.7 0 1 0 3.4 0a1.7 1.7 0 1 0 -3.4 0M441.71 356.00a1.7 1.7 0 1 0 3.4 0a1.7 1.7 0 1 0 -3.4 0M446.12 356.00a1.7 1.7 0 1 0 3.4 0a1.7 1.7 0 1 0 -3.4 0M450.53 356.00a1.7 1.7 0 1 0 3.4 0a1.7 1.7 0 1 0 -3.4 0M454.94 356.00a1.7 1.7 0 1 0 3.4 0a1.7 1.7 0 1 0 -3.4 0M459.35 356.00a1.7 1.7 0 1 0 3.4 0a1.7 1.7 0 1 0 -3.4 0M463.76 356.00a1.7 1.7 0 1 0 3.4 0a1.7 1.7 0 1 0 -3.4 0M468.17 356.00a1.7 1.7 0 1 0 3.4 0a1.7 1.7 0 1 0 -3.4 0M472.58 356.00a1.7 1.7 0 1 0 3.4 0a1.7 1.7 0 1 0 -3.4 0M476.99 356.00a1.7 1.7 0 1 0 3.4 0a1.7 1.7 0 1 0 -3.4 0M481.40 356.00a1.7 1.7 0 1 0 3.4 0a1.7 1.7 0 1 0 -3.4 0M485.81 356.00a1.7 1.7 0 1 0 3.4 0a1.7 1.7 0 1 0 -3.4 0M490.22 356.00a1.7 1.7 0 1 0 3.4 0a1.7 1.7 0 1 0 -3.4 0M494.63 356.00a1.7 1.7 0 1 0 3.4 0a1.7 1.7 0 1 0 -3.4 0M499.04 356.00a1.7 1.7 0 1 0 3.4 0a1.7 1.7 0 1 0 -3.4 0M503.45 356.00a1.7 1.7 0 1 0 3.4 0a1.7 1.7 0 1 0 -3.4 0M507.86 356.00a1.7 1.7 0 1 0 3.4 0a1.7 1.7 0 1 0 -3.4 0M512.27 356.00a1.7 1.7 0 1 0 3.4 0a1.7 1.7 0 1 0 -3.4 0M516.68 356.00a1.7 1.7 0 1 0 3.4 0a1.7 1.7 0 1 0 -3.4 0M521.09 356.00a1.7 1.7 0 1 0 3.4 0a1.7 1.7 0 1 0 -3.4 0M525.50 356.00a1.7 1.7 0 1 0 3.4 0a1.7 1.7 0 1 0 -3.4 0M529.91 356.00a1.7 1.7 0 1 0 3.4 0a1.7 1.7 0 1 0 -3.4 0M534.32 356.00a1.7 1.7 0 1 0 3.4 0a1.7 1.7 0 1 0 -3.4 0M538.73 356.00a1.7 1.7 0 1 0 3.4 0a1.7 1.7 0 1 0 -3.4 0M59.20 240.00a1.7 1.7 0 1 0 3.4 0a1.7 1.7 0 1 0 -3.4 0M61.23 243.48a1.7 1.7 0 1 0 3.4 0a1.7 1.7 0 1 0 -3.4 0M63.29 246.96a1.7 1.7 0 1 0 3.4 0a1.7 1.7 0 1 0 -3.4 0M65.36 250.42a1.7 1.7 0 1 0 3.4 0a1.7 1.7 0 1 0 -3.4 0M67.46 253.87a1.7 1.7 0 1 0 3.4 0a1.7 1.7 0 1 0 -3.4 0M69.58 257.32a1.7 1.7 0 1 0 3.4 0a1.7 1.7 0 1 0 -3.4 0M71.72 260.75a1.7 1.7 0 1 0 3.4 0a1.7 1.7 0 1 0 -3.4 0M73.89 264.16a1.7 1.7 0 1 0 3.4 0a1.7 1.7 0 1 0 -3.4 0M76.08 267.57a1.7 1.7 0 1 0 3.4 0a1.7 1.7 0 1 0 -3.4 0M78.30 270.96a1.7 1.7 0 1 0 3.4 0a1.7 1.7 0 1 0 -3.4 0M80.56 274.33a1.7 1.7 0 1 0 3.4 0a1.7 1.7 0 1 0 -3.4 0M82.84 277.69a1.7 1.7 0 1 0 3.4 0a1.7 1.7 0 1 0 -3.4 0M85.15 281.03a1.7 1.7 0 1 0 3.4 0a1.7 1.7 0 1 0 -3.4 0M87.46 284.38a1.7 1.7 0 1 0 3.4 0a1.7 1.7 0 1 0 -3.4 0M89.77 287.72a1.7 1.7 0 1 0 3.4 0a1.7 1.7 0 1 0 -3.4 0M92.11 291.05a1.7 1.7 0 1 0 3.4 0a1.7 1.7 0 1 0 -3.4 0M94.48 294.36a1.7 1.7 0 1 0 3.4 0a1.7 1.7 0 1 0 -3.4 0M96.89 297.64a1.7 1.7 0 1 0 3.4 0a1.7 1.7 0 1 0 -3.4 0M99.36 300.90a1.7 1.7 0 1 0 3.4 0a1.7 1.7 0 1 0 -3.4 0M101.91 304.10a1.7 1.7 0 1 0 3.4 0a1.7 1.7 0 1 0 -3.4 0M104.55 307.24a1.7 1.7 0 1 0 3.4 0a1.7 1.7 0 1 0 -3.4 0M107.32 310.29a1.7 1.7 0 1 0 3.4 0a1.7 1.7 0 1 0 -3.4 0M110.19 313.27a1.7 1.7 0 1 0 3.4 0a1.7 1.7 0 1 0 -3.4 0M113.12 316.21a1.7 1.7 0 1 0 3.4 0a1.7 1.7 0 1 0 -3.4 0M116.11 319.09a1.7 1.7 0 1 0 3.4 0a1.7 1.7 0 1 0 -3.4 0M119.18 321.91a1.7 1.7 0 1 0 3.4 0a1.7 1.7 0 1 0 -3.4 0M122.35 324.64a1.7 1.7 0 1 0 3.4 0a1.7 1.7 0 1 0 -3.4 0M125.63 327.26a1.7 1.7 0 1 0 3.4 0a1.7 1.7 0 1 0 -3.4 0M129.04 329.75a1.7 1.7 0 1 0 3.4 0a1.7 1.7 0 1 0 -3.4 0M132.61 332.06a1.7 1.7 0 1 0 3.4 0a1.7 1.7 0 1 0 -3.4 0M136.27 334.24a1.7 1.7 0 1 0 3.4 0a1.7 1.7 0 1 0 -3.4 0M140.01 336.32a1.7 1.7 0 1 0 3.4 0a1.7 1.7 0 1 0 -3.4 0M143.84 338.27a1.7 1.7 0 1 0 3.4 0a1.7 1.7 0 1 0 -3.4 0M147.74 340.09a1.7 1.7 0 1 0 3.4 0a1.7 1.7 0 1 0 -3.4 0M151.73 341.78a1.7 1.7 0 1 0 3.4 0a1.7 1.7 0 1 0 -3.4 0M155.78 343.32a1.7 1.7 0 1 0 3.4 0a1.7 1.7 0 1 0 -3.4 0M159.89 344.75a1.7 1.7 0 1 0 3.4 0a1.7 1.7 0 1 0 -3.4 0M164.03 346.11a1.7 1.7 0 1 0 3.4 0a1.7 1.7 0 1 0 -3.4 0M168.20 347.37a1.7 1.7 0 1 0 3.4 0a1.7 1.7 0 1 0 -3.4 0M172.43 348.49a1.7 1.7 0 1 0 3.4 0a1.7 1.7 0 1 0 -3.4 0M176.70 349.47a1.7 1.7 0 1 0 3.4 0a1.7 1.7 0 1 0 -3.4 0M181.02 350.25a1.7 1.7 0 1 0 3.4 0a1.7 1.7 0 1 0 -3.4 0M185.36 350.93a1.7 1.7 0 1 0 3.4 0a1.7 1.7 0 1 0 -3.4 0M189.72 351.53a1.7 1.7 0 1 0 3.4 0a1.7 1.7 0 1 0 -3.4 0M194.09 352.06a1.7 1.7 0 1 0 3.4 0a1.7 1.7 0 1 0 -3.4 0M198.47 352.52a1.7 1.7 0 1 0 3.4 0a1.7 1.7 0 1 0 -3.4 0M202.85 352.94a1.7 1.7 0 1 0 3.4 0a1.7 1.7 0 1 0 -3.4 0M207.24 353.31a1.7 1.7 0 1 0 3.4 0a1.7 1.7 0 1 0 -3.4 0M211.64 353.65a1.7 1.7 0 1 0 3.4 0a1.7 1.7 0 1 0 -3.4 0M216.03 353.97a1.7 1.7 0 1 0 3.4 0a1.7 1.7 0 1 0 -3.4 0M220.43 354.24a1.7 1.7 0 1 0 3.4 0a1.7 1.7 0 1 0 -3.4 0M224.84 354.48a1.7 1.7 0 1 0 3.4 0a1.7 1.7 0 1 0 -3.4 0M229.24 354.66a1.7 1.7 0 1 0 3.4 0a1.7 1.7 0 1 0 -3.4 0M233.65 354.83a1.7 1.7 0 1 0 3.4 0a1.7 1.7 0 1 0 -3.4 0M238.05 354.97a1.7 1.7 0 1 0 3.4 0a1.7 1.7 0 1 0 -3.4 0M242.46 355.10a1.7 1.7 0 1 0 3.4 0a1.7 1.7 0 1 0 -3.4 0M246.87 355.21a1.7 1.7 0 1 0 3.4 0a1.7 1.7 0 1 0 -3.4 0M251.28 355.29a1.7 1.7 0 1 0 3.4 0a1.7 1.7 0 1 0 -3.4 0M255.69 355.36a1.7 1.7 0 1 0 3.4 0a1.7 1.7 0 1 0 -3.4 0M260.10 355.43a1.7 1.7 0 1 0 3.4 0a1.7 1.7 0 1 0 -3.4 0M264.51 355.48a1.7 1.7 0 1 0 3.4 0a1.7 1.7 0 1 0 -3.4 0M268.92 355.54a1.7 1.7 0 1 0 3.4 0a1.7 1.7 0 1 0 -3.4 0M273.33 355.59a1.7 1.7 0 1 0 3.4 0a1.7 1.7 0 1 0 -3.4 0M277.74 355.63a1.7 1.7 0 1 0 3.4 0a1.7 1.7 0 1 0 -3.4 0M282.15 355.67a1.7 1.7 0 1 0 3.4 0a1.7 1.7 0 1 0 -3.4 0M286.55 355.71a1.7 1.7 0 1 0 3.4 0a1.7 1.7 0 1 0 -3.4 0M290.96 355.74a1.7 1.7 0 1 0 3.4 0a1.7 1.7 0 1 0 -3.4 0M295.37 355.77a1.7 1.7 0 1 0 3.4 0a1.7 1.7 0 1 0 -3.4 0M299.78 355.80a1.7 1.7 0 1 0 3.4 0a1.7 1.7 0 1 0 -3.4 0M304.19 355.83a1.7 1.7 0 1 0 3.4 0a1.7 1.7 0 1 0 -3.4 0M308.60 355.85a1.7 1.7 0 1 0 3.4 0a1.7 1.7 0 1 0 -3.4 0M313.01 355.88a1.7 1.7 0 1 0 3.4 0a1.7 1.7 0 1 0 -3.4 0M317.42 355.90a1.7 1.7 0 1 0 3.4 0a1.7 1.7 0 1 0 -3.4 0M321.83 355.93a1.7 1.7 0 1 0 3.4 0a1.7 1.7 0 1 0 -3.4 0M326.24 355.95a1.7 1.7 0 1 0 3.4 0a1.7 1.7 0 1 0 -3.4 0M330.65 355.96a1.7 1.7 0 1 0 3.4 0a1.7 1.7 0 1 0 -3.4 0M335.06 355.98a1.7 1.7 0 1 0 3.4 0a1.7 1.7 0 1 0 -3.4 0M339.47 355.99a1.7 1.7 0 1 0 3.4 0a1.7 1.7 0 1 0 -3.4 0M343.88 356.00a1.7 1.7 0 1 0 3.4 0a1.7 1.7 0 1 0 -3.4 0M348.29 356.00a1.7 1.7 0 1 0 3.4 0a1.7 1.7 0 1 0 -3.4 0M352.70 356.00a1.7 1.7 0 1 0 3.4 0a1.7 1.7 0 1 0 -3.4 0M357.11 356.00a1.7 1.7 0 1 0 3.4 0a1.7 1.7 0 1 0 -3.4 0M361.52 356.00a1.7 1.7 0 1 0 3.4 0a1.7 1.7 0 1 0 -3.4 0M365.93 356.00a1.7 1.7 0 1 0 3.4 0a1.7 1.7 0 1 0 -3.4 0M370.34 356.00a1.7 1.7 0 1 0 3.4 0a1.7 1.7 0 1 0 -3.4 0M374.75 356.00a1.7 1.7 0 1 0 3.4 0a1.7 1.7 0 1 0 -3.4 0M379.16 356.00a1.7 1.7 0 1 0 3.4 0a1.7 1.7 0 1 0 -3.4 0M383.57 356.00a1.7 1.7 0 1 0 3.4 0a1.7 1.7 0 1 0 -3.4 0M387.98 356.00a1.7 1.7 0 1 0 3.4 0a1.7 1.7 0 1 0 -3.4 0M392.39 356.00a1.7 1.7 0 1 0 3.4 0a1.7 1.7 0 1 0 -3.4 0M396.80 356.00a1.7 1.7 0 1 0 3.4 0a1.7 1.7 0 1 0 -3.4 0M401.21 356.00a1.7 1.7 0 1 0 3.4 0a1.7 1.7 0 1 0 -3.4 0M405.62 356.00a1.7 1.7 0 1 0 3.4 0a1.7 1.7 0 1 0 -3.4 0M410.03 356.00a1.7 1.7 0 1 0 3.4 0a1.7 1.7 0 1 0 -3.4 0M414.44 356.00a1.7 1.7 0 1 0 3.4 0a1.7 1.7 0 1 0 -3.4 0M418.85 356.00a1.7 1.7 0 1 0 3.4 0a1.7 1.7 0 1 0 -3.4 0M423.26 356.00a1.7 1.7 0 1 0 3.4 0a1.7 1.7 0 1 0 -3.4 0M427.67 356.00a1.7 1.7 0 1 0 3.4 0a1.7 1.7 0 1 0 -3.4 0M432.08 356.00a1.7 1.7 0 1 0 3.4 0a1.7 1.7 0 1 0 -3.4 0M436.49 356.00a1.7 1.7 0 1 0 3.4 0a1.7 1.7 0 1 0 -3.4 0M440.90 356.00a1.7 1.7 0 1 0 3.4 0a1.7 1.7 0 1 0 -3.4 0M445.31 356.00a1.7 1.7 0 1 0 3.4 0a1.7 1.7 0 1 0 -3.4 0M449.72 356.00a1.7 1.7 0 1 0 3.4 0a1.7 1.7 0 1 0 -3.4 0M454.13 356.00a1.7 1.7 0 1 0 3.4 0a1.7 1.7 0 1 0 -3.4 0M458.54 356.00a1.7 1.7 0 1 0 3.4 0a1.7 1.7 0 1 0 -3.4 0M462.95 356.00a1.7 1.7 0 1 0 3.4 0a1.7 1.7 0 1 0 -3.4 0M467.36 356.00a1.7 1.7 0 1 0 3.4 0a1.7 1.7 0 1 0 -3.4 0M471.77 356.00a1.7 1.7 0 1 0 3.4 0a1.7 1.7 0 1 0 -3.4 0M476.18 356.00a1.7 1.7 0 1 0 3.4 0a1.7 1.7 0 1 0 -3.4 0M480.59 356.00a1.7 1.7 0 1 0 3.4 0a1.7 1.7 0 1 0 -3.4 0M485.00 356.00a1.7 1.7 0 1 0 3.4 0a1.7 1.7 0 1 0 -3.4 0M489.41 356.00a1.7 1.7 0 1 0 3.4 0a1.7 1.7 0 1 0 -3.4 0M493.82 356.00a1.7 1.7 0 1 0 3.4 0a1.7 1.7 0 1 0 -3.4 0M498.23 356.00a1.7 1.7 0 1 0 3.4 0a1.7 1.7 0 1 0 -3.4 0M502.64 356.00a1.7 1.7 0 1 0 3.4 0a1.7 1.7 0 1 0 -3.4 0M507.05 356.00a1.7 1.7 0 1 0 3.4 0a1.7 1.7 0 1 0 -3.4 0M511.46 356.00a1.7 1.7 0 1 0 3.4 0a1.7 1.7 0 1 0 -3.4 0M515.87 356.00a1.7 1.7 0 1 0 3.4 0a1.7 1.7 0 1 0 -3.4 0M520.28 356.00a1.7 1.7 0 1 0 3.4 0a1.7 1.7 0 1 0 -3.4 0M524.69 356.00a1.7 1.7 0 1 0 3.4 0a1.7 1.7 0 1 0 -3.4 0M529.10 356.00a1.7 1.7 0 1 0 3.4 0a1.7 1.7 0 1 0 -3.4 0M533.51 356.00a1.7 1.7 0 1 0 3.4 0a1.7 1.7 0 1 0 -3.4 0M537.92 356.00a1.7 1.7 0 1 0 3.4 0a1.7 1.7 0 1 0 -3.4 0" fill="#5048ff" opacity="0.6"/>
<path d="M59.70 204.30a1.2 1.2 0 1 0 2.4 0a1.2 1.2 0 1 0 -2.4 0M61.91 207.70a1.2 1.2 0 1 0 2.4 0a1.2 1.2 0 1 0 -2.4 0M64.13 211.09a1.2 1.2 0 1 0 2.4 0a1.2 1.2 0 1 0 -2.4 0M66.36 214.47a1.2 1.2 0 1 0 2.4 0a1.2 1.2 0 1 0 -2.4 0M68.60 217.85a1.2 1.2 0 1 0 2.4 0a1.2 1.2 0 1 0 -2.4 0M70.85 221.23a1.2 1.2 0 1 0 2.4 0a1.2 1.2 0 1 0 -2.4 0M73.11 224.60a1.2 1.2 0 1 0 2.4 0a1.2 1.2 0 1 0 -2.4 0M75.38 227.96a1.2 1.2 0 1 0 2.4 0a1.2 1.2 0 1 0 -2.4 0M77.66 231.32a1.2 1.2 0 1 0 2.4 0a1.2 1.2 0 1 0 -2.4 0M79.96 234.68a1.2 1.2 0 1 0 2.4 0a1.2 1.2 0 1 0 -2.4 0M82.26 238.02a1.2 1.2 0 1 0 2.4 0a1.2 1.2 0 1 0 -2.4 0M84.57 241.37a1.2 1.2 0 1 0 2.4 0a1.2 1.2 0 1 0 -2.4 0M86.88 244.71a1.2 1.2 0 1 0 2.4 0a1.2 1.2 0 1 0 -2.4 0M89.18 248.06a1.2 1.2 0 1 0 2.4 0a1.2 1.2 0 1 0 -2.4 0M91.49 251.40a1.2 1.2 0 1 0 2.4 0a1.2 1.2 0 1 0 -2.4 0M93.81 254.74a1.2 1.2 0 1 0 2.4 0a1.2 1.2 0 1 0 -2.4 0M96.14 258.07a1.2 1.2 0 1 0 2.4 0a1.2 1.2 0 1 0 -2.4 0M98.50 261.39a1.2 1.2 0 1 0 2.4 0a1.2 1.2 0 1 0 -2.4 0M100.89 264.69a1.2 1.2 0 1 0 2.4 0a1.2 1.2 0 1 0 -2.4 0M103.31 267.96a1.2 1.2 0 1 0 2.4 0a1.2 1.2 0 1 0 -2.4 0M105.79 271.21a1.2 1.2 0 1 0 2.4 0a1.2 1.2 0 1 0 -2.4 0M108.33 274.42a1.2 1.2 0 1 0 2.4 0a1.2 1.2 0 1 0 -2.4 0M110.90 277.61a1.2 1.2 0 1 0 2.4 0a1.2 1.2 0 1 0 -2.4 0M113.49 280.79a1.2 1.2 0 1 0 2.4 0a1.2 1.2 0 1 0 -2.4 0M116.10 283.95a1.2 1.2 0 1 0 2.4 0a1.2 1.2 0 1 0 -2.4 0M118.76 287.08a1.2 1.2 0 1 0 2.4 0a1.2 1.2 0 1 0 -2.4 0M121.46 290.18a1.2 1.2 0 1 0 2.4 0a1.2 1.2 0 1 0 -2.4 0M124.22 293.24a1.2 1.2 0 1 0 2.4 0a1.2 1.2 0 1 0 -2.4 0M127.06 296.25a1.2 1.2 0 1 0 2.4 0a1.2 1.2 0 1 0 -2.4 0M129.99 299.18a1.2 1.2 0 1 0 2.4 0a1.2 1.2 0 1 0 -2.4 0M133.02 302.04a1.2 1.2 0 1 0 2.4 0a1.2 1.2 0 1 0 -2.4 0M136.12 304.82a1.2 1.2 0 1 0 2.4 0a1.2 1.2 0 1 0 -2.4 0M139.29 307.55a1.2 1.2 0 1 0 2.4 0a1.2 1.2 0 1 0 -2.4 0M142.53 310.21a1.2 1.2 0 1 0 2.4 0a1.2 1.2 0 1 0 -2.4 0M145.84 312.81a1.2 1.2 0 1 0 2.4 0a1.2 1.2 0 1 0 -2.4 0M149.22 315.33a1.2 1.2 0 1 0 2.4 0a1.2 1.2 0 1 0 -2.4 0M152.66 317.78a1.2 1.2 0 1 0 2.4 0a1.2 1.2 0 1 0 -2.4 0M156.18 320.15a1.2 1.2 0 1 0 2.4 0a1.2 1.2 0 1 0 -2.4 0M159.76 322.45a1.2 1.2 0 1 0 2.4 0a1.2 1.2 0 1 0 -2.4 0M163.37 324.70a1.2 1.2 0 1 0 2.4 0a1.2 1.2 0 1 0 -2.4 0M167.04 326.87a1.2 1.2 0 1 0 2.4 0a1.2 1.2 0 1 0 -2.4 0M170.77 328.96a1.2 1.2 0 1 0 2.4 0a1.2 1.2 0 1 0 -2.4 0M174.58 330.95a1.2 1.2 0 1 0 2.4 0a1.2 1.2 0 1 0 -2.4 0M178.46 332.81a1.2 1.2 0 1 0 2.4 0a1.2 1.2 0 1 0 -2.4 0M182.43 334.52a1.2 1.2 0 1 0 2.4 0a1.2 1.2 0 1 0 -2.4 0M186.44 336.14a1.2 1.2 0 1 0 2.4 0a1.2 1.2 0 1 0 -2.4 0M190.51 337.67a1.2 1.2 0 1 0 2.4 0a1.2 1.2 0 1 0 -2.4 0M194.61 339.10a1.2 1.2 0 1 0 2.4 0a1.2 1.2 0 1 0 -2.4 0M198.76 340.44a1.2 1.2 0 1 0 2.4 0a1.2 1.2 0 1 0 -2.4 0M202.94 341.68a1.2 1.2 0 1 0 2.4 0a1.2 1.2 0 1 0 -2.4 0M207.16 342.84a1.2 1.2 0 1 0 2.4 0a1.2 1.2 0 1 0 -2.4 0M211.38 343.95a1.2 1.2 0 1 0 2.4 0a1.2 1.2 0 1 0 -2.4 0M215.64 345.00a1.2 1.2 0 1 0 2.4 0a1.2 1.2 0 1 0 -2.4 0M219.91 345.96a1.2 1.2 0 1 0 2.4 0a1.2 1.2 0 1 0 -2.4 0M224.21 346.82a1.2 1.2 0 1 0 2.4 0a1.2 1.2 0 1 0 -2.4 0M228.54 347.56a1.2 1.2 0 1 0 2.4 0a1.2 1.2 0 1 0 -2.4 0M232.89 348.20a1.2 1.2 0 1 0 2.4 0a1.2 1.2 0 1 0 -2.4 0M237.26 348.78a1.2 1.2 0 1 0 2.4 0a1.2 1.2 0 1 0 -2.4 0M241.63 349.31a1.2 1.2 0 1 0 2.4 0a1.2 1.2 0 1 0 -2.4 0M246.00 349.78a1.2 1.2 0 1 0 2.4 0a1.2 1.2 0 1 0 -2.4 0M250.39 350.22a1.2 1.2 0 1 0 2.4 0a1.2 1.2 0 1 0 -2.4 0M254.77 350.64a1.2 1.2 0 1 0 2.4 0a1.2 1.2 0 1 0 -2.4 0M259.16 351.05a1.2 1.2 0 1 0 2.4 0a1.2 1.2 0 1 0 -2.4 0M263.54 351.45a1.2 1.2 0 1 0 2.4 0a1.2 1.2 0 1 0 -2.4 0M267.93 351.84a1.2 1.2 0 1 0 2.4 0a1.2 1.2 0 1 0 -2.4 0M272.32 352.21a1.2 1.2 0 1 0 2.4 0a1.2 1.2 0 1 0 -2.4 0M276.71 352.56a1.2 1.2 0 1 0 2.4 0a1.2 1.2 0 1 0 -2.4 0M281.11 352.90a1.2 1.2 0 1 0 2.4 0a1.2 1.2 0 1 0 -2.4 0M285.50 353.20a1.2 1.2 0 1 0 2.4 0a1.2 1.2 0 1 0 -2.4 0M289.90 353.48a1.2 1.2 0 1 0 2.4 0a1.2 1.2 0 1 0 -2.4 0M294.30 353.72a1.2 1.2 0 1 0 2.4 0a1.2 1.2 0 1 0 -2.4 0M298.71 353.93a1.2 1.2 0 1 0 2.4 0a1.2 1.2 0 1 0 -2.4 0M303.11 354.11a1.2 1.2 0 1 0 2.4 0a1.2 1.2 0 1 0 -2.4 0M307.52 354.27a1.2 1.2 0 1 0 2.4 0a1.2 1.2 0 1 0 -2.4 0M311.93 354.42a1.2 1.2 0 1 0 2.4 0a1.2 1.2 0 1 0 -2.4 0M316.33 354.56a1.2 1.2 0 1 0 2.4 0a1.2 1.2 0 1 0 -2.4 0M320.74 354.70a1.2 1.2 0 1 0 2.4 0a1.2 1.2 0 1 0 -2.4 0M325.15 354.82a1.2 1.2 0 1 0 2.4 0a1.2 1.2 0 1 0 -2.4 0M329.56 354.93a1.2 1.2 0 1 0 2.4 0a1.2 1.2 0 1 0 -2.4 0M333.97 355.03a1.2 1.2 0 1 0 2.4 0a1.2 1.2 0 1 0 -2.4 0M338.38 355.12a1.2 1.2 0 1 0 2.4 0a1.2 1.2 0 1 0 -2.4 0M342.78 355.21a1.2 1.2 0 1 0 2.4 0a1.2 1.2 0 1 0 -2.4 0M347.19 355.28a1.2 1.2 0 1 0 2.4 0a1.2 1.2 0 1 0 -2.4 0M351.60 355.35a1.2 1.2 0 1 0 2.4 0a1.2 1.2 0 1 0 -2.4 0M356.01 355.41a1.2 1.2 0 1 0 2.4 0a1.2 1.2 0 1 0 -2.4 0M360.42 355.47a1.2 1.2 0 1 0 2.4 0a1.2 1.2 0 1 0 -2.4 0M364.83 355.52a1.2 1.2 0 1 0 2.4 0a1.2 1.2 0 1 0 -2.4 0M369.24 355.57a1.2 1.2 0 1 0 2.4 0a1.2 1.2 0 1 0 -2.4 0M373.65 355.62a1.2 1.2 0 1 0 2.4 0a1.2 1.2 0 1 0 -2.4 0M378.06 355.66a1.2 1.2 0 1 0 2.4 0a1.2 1.2 0 1 0 -2.4 0M382.47 355.70a1.2 1.2 0 1 0 2.4 0a1.2 1.2 0 1 0 -2.4 0M386.88 355.73a1.2 1.2 0 1 0 2.4 0a1.2 1.2 0 1 0 -2.4 0M391.29 355.77a1.2 1.2 0 1 0 2.4 0a1.2 1.2 0 1 0 -2.4 0M395.70 355.79a1.2 1.2 0 1 0 2.4 0a1.2 1.2 0 1 0 -2.4 0M400.11 355.82a1.2 1.2 0 1 0 2.4 0a1.2 1.2 0 1 0 -2.4 0M404.52 355.85a1.2 1.2 0 1 0 2.4 0a1.2 1.2 0 1 0 -2.4 0M408.93 355.87a1.2 1.2 0 1 0 2.4 0a1.2 1.2 0 1 0 -2.4 0M413.34 355.90a1.2 1.2 0 1 0 2.4 0a1.2 1.2 0 1 0 -2.4 0M417.75 355.92a1.2 1.2 0 1 0 2.4 0a1.2 1.2 0 1 0 -2.4 0M422.16 355.94a1.2 1.2 0 1 0 2.4 0a1.2 1.2 0 1 0 -2.4 0M426.57 355.96a1.2 1.2 0 1 0 2.4 0a1.2 1.2 0 1 0 -2.4 0M430.98 355.98a1.2 1.2 0 1 0 2.4 0a1.2 1.2 0 1 0 -2.4 0M435.39 355.99a1.2 1.2 0 1 0 2.4 0a1.2 1.2 0 1 0 -2.4 0M439.80 356.00a1.2 1.2 0 1 0 2.4 0a1.2 1.2 0 1 0 -2.4 0M444.21 356.00a1.2 1.2 0 1 0 2.4 0a1.2 1.2 0 1 0 -2.4 0M448.62 356.00a1.2 1.2 0 1 0 2.4 0a1.2 1.2 0 1 0 -2.4 0M453.03 356.00a1.2 1.2 0 1 0 2.4 0a1.2 1.2 0 1 0 -2.4 0M457.44 356.00a1.2 1.2 0 1 0 2.4 0a1.2 1.2 0 1 0 -2.4 0M461.85 356.00a1.2 1.2 0 1 0 2.4 0a1.2 1.2 0 1 0 -2.4 0M466.26 356.00a1.2 1.2 0 1 0 2.4 0a1.2 1.2 0 1 0 -2.4 0M470.67 356.00a1.2 1.2 0 1 0 2.4 0a1.2 1.2 0 1 0 -2.4 0M475.08 356.00a1.2 1.2 0 1 0 2.4 0a1.2 1.2 0 1 0 -2.4 0M479.49 356.00a1.2 1.2 0 1 0 2.4 0a1.2 1.2 0 1 0 -2.4 0M483.90 356.00a1.2 1.2 0 1 0 2.4 0a1.2 1.2 0 1 0 -2.4 0M488.31 356.00a1.2 1.2 0 1 0 2.4 0a1.2 1.2 0 1 0 -2.4 0M492.72 356.00a1.2 1.2 0 1 0 2.4 0a1.2 1.2 0 1 0 -2.4 0M497.13 356.00a1.2 1.2 0 1 0 2.4 0a1.2 1.2 0 1 0 -2.4 0M501.54 356.00a1.2 1.2 0 1 0 2.4 0a1.2 1.2 0 1 0 -2.4 0M505.95 356.00a1.2 1.2 0 1 0 2.4 0a1.2 1.2 0 1 0 -2.4 0M510.36 356.00a1.2 1.2 0 1 0 2.4 0a1.2 1.2 0 1 0 -2.4 0M514.77 356.00a1.2 1.2 0 1 0 2.4 0a1.2 1.2 0 1 0 -2.4 0M519.18 356.00a1.2 1.2 0 1 0 2.4 0a1.2 1.2 0 1 0 -2.4 0M523.59 356.00a1.2 1.2 0 1 0 2.4 0a1.2 1.2 0 1 0 -2.4 0M528.00 356.00a1.2 1.2 0 1 0 2.4 0a1.2 1.2 0 1 0 -2.4 0M532.41 356.00a1.2 1.2 0 1 0 2.4 0a1.2 1.2 0 1 0 -2.4 0M536.82 356.00a1.2 1.2 0 1 0 2.4 0a1.2 1.2 0 1 0 -2.4 0M59.70 221.00a1.2 1.2 0 1 0 2.4 0a1.2 1.2 0 1 0 -2.4 0M61.86 224.42a1.2 1.2 0 1 0 2.4 0a1.2 1.2 0 1 0 -2.4 0M64.03 227.84a1.2 1.2 0 1 0 2.4 0a1.2 1.2 0 1 0 -2.4 0M66.21 231.25a1.2 1.2 0 1 0 2.4 0a1.2 1.2 0 1 0 -2.4 0M68.40 234.66a1.2 1.2 0 1 0 2.4 0a1.2 1.2 0 1 0 -2.4 0M70.61 238.05a1.2 1.2 0 1 0 2.4 0a1.2 1.2 0 1 0 -2.4 0M72.83 241.44a1.2 1.2 0 1 0 2.4 0a1.2 1.2 0 1 0 -2.4 0M75.07 244.83a1.2 1.2 0 1 0 2.4 0a1.2 1.2 0 1 0 -2.4 0M77.32 248.20a1.2 1.2 0 1 0 2.4 0a1.2 1.2 0 1 0 -2.4 0M79.58 251.57a1.2 1.2 0 1 0 2.4 0a1.2 1.2 0 1 0 -2.4 0M81.87 254.93a1.2 1.2 0 1 0 2.4 0a1.2 1.2 0 1 0 -2.4 0M84.16 258.28a1.2 1.2 0 1 0 2.4 0a1.2 1.2 0 1 0 -2.4 0M86.46 261.63a1.2 1.2 0 1 0 2.4 0a1.2 1.2 0 1 0 -2.4 0M88.75 264.98a1.2 1.2 0 1 0 2.4 0a1.2 1.2 0 1 0 -2.4 0M91.04 268.34a1.2 1.2 0 1 0 2.4 0a1.2 1.2 0 1 0 -2.4 0M93.34 271.68a1.2 1.2 0 1 0 2.4 0a1.2 1.2 0 1 0 -2.4 0M95.67 275.02a1.2 1.2 0 1 0 2.4 0a1.2 1.2 0 1 0 -2.4 0M98.02 278.34a1.2 1.2 0 1 0 2.4 0a1.2 1.2 0 1 0 -2.4 0M100.42 281.63a1.2 1.2 0 1 0 2.4 0a1.2 1.2 0 1 0 -2.4 0M102.87 284.90a1.2 1.2 0 1 0 2.4 0a1.2 1.2 0 1 0 -2.4 0M105.38 288.12a1.2 1.2 0 1 0 2.4 0a1.2 1.2 0 1 0 -2.4 0M107.99 291.29a1.2 1.2 0 1 0 2.4 0a1.2 1.2 0 1 0 -2.4 0M110.65 294.42a1.2 1.2 0 1 0 2.4 0a1.2 1.2 0 1 0 -2.4 0M113.35 297.52a1.2 1.2 0 1 0 2.4 0a1.2 1.2 0 1 0 -2.4 0M116.10 300.59a1.2 1.2 0 1 0 2.4 0a1.2 1.2 0 1 0 -2.4 0M118.89 303.63a1.2 1.2 0 1 0 2.4 0a1.2 1.2 0 1 0 -2.4 0M121.75 306.61a1.2 1.2 0 1 0 2.4 0a1.2 1.2 0 1 0 -2.4 0M124.69 309.54a1.2 1.2 0 1 0 2.4 0a1.2 1.2 0 1 0 -2.4 0M127.72 312.39a1.2 1.2 0 1 0 2.4 0a1.2 1.2 0 1 0 -2.4 0M130.87 315.14a1.2 1.2 0 1 0 2.4 0a1.2 1.2 0 1 0 -2.4 0M134.12 317.79a1.2 1.2 0 1 0 2.4 0a1.2 1.2 0 1 0 -2.4 0M137.44 320.37a1.2 1.2 0 1 0 2.4 0a1.2 1.2 0 1 0 -2.4 0M140.84 322.88a1.2 1.2 0 1 0 2.4 0a1.2 1.2 0 1 0 -2.4 0M144.31 325.30a1.2 1.2 0 1 0 2.4 0a1.2 1.2 0 1 0 -2.4 0M147.86 327.63a1.2 1.2 0 1 0 2.4 0a1.2 1.2 0 1 0 -2.4 0M151.50 329.84a1.2 1.2 0 1 0 2.4 0a1.2 1.2 0 1 0 -2.4 0M155.24 331.92a1.2 1.2 0 1 0 2.4 0a1.2 1.2 0 1 0 -2.4 0M159.06 333.88a1.2 1.2 0 1 0 2.4 0a1.2 1.2 0 1 0 -2.4 0M162.94 335.75a1.2 1.2 0 1 0 2.4 0a1.2 1.2 0 1 0 -2.4 0M166.87 337.53a1.2 1.2 0 1 0 2.4 0a1.2 1.2 0 1 0 -2.4 0M170.86 339.20a1.2 1.2 0 1 0 2.4 0a1.2 1.2 0 1 0 -2.4 0M174.91 340.75a1.2 1.2 0 1 0 2.4 0a1.2 1.2 0 1 0 -2.4 0M179.02 342.18a1.2 1.2 0 1 0 2.4 0a1.2 1.2 0 1 0 -2.4 0M183.18 343.48a1.2 1.2 0 1 0 2.4 0a1.2 1.2 0 1 0 -2.4 0M187.36 344.72a1.2 1.2 0 1 0 2.4 0a1.2 1.2 0 1 0 -2.4 0M191.58 345.88a1.2 1.2 0 1 0 2.4 0a1.2 1.2 0 1 0 -2.4 0M195.82 346.93a1.2 1.2 0 1 0 2.4 0a1.2 1.2 0 1 0 -2.4 0M200.11 347.86a1.2 1.2 0 1 0 2.4 0a1.2 1.2 0 1 0 -2.4 0M204.43 348.66a1.2 1.2 0 1 0 2.4 0a1.2 1.2 0 1 0 -2.4 0M208.77 349.34a1.2 1.2 0 1 0 2.4 0a1.2 1.2 0 1 0 -2.4 0M213.12 349.96a1.2 1.2 0 1 0 2.4 0a1.2 1.2 0 1 0 -2.4 0M217.49 350.51a1.2 1.2 0 1 0 2.4 0a1.2 1.2 0 1 0 -2.4 0M221.86 351.00a1.2 1.2 0 1 0 2.4 0a1.2 1.2 0 1 0 -2.4 0M226.25 351.43a1.2 1.2 0 1 0 2.4 0a1.2 1.2 0 1 0 -2.4 0M230.64 351.81a1.2 1.2 0 1 0 2.4 0a1.2 1.2 0 1 0 -2.4 0M235.03 352.15a1.2 1.2 0 1 0 2.4 0a1.2 1.2 0 1 0 -2.4 0M239.43 352.46a1.2 1.2 0 1 0 2.4 0a1.2 1.2 0 1 0 -2.4 0M243.83 352.74a1.2 1.2 0 1 0 2.4 0a1.2 1.2 0 1 0 -2.4 0M248.23 352.99a1.2 1.2 0 1 0 2.4 0a1.2 1.2 0 1 0 -2.4 0M252.63 353.22a1.2 1.2 0 1 0 2.4 0a1.2 1.2 0 1 0 -2.4 0M257.03 353.43a1.2 1.2 0 1 0 2.4 0a1.2 1.2 0 1 0 -2.4 0M261.44 353.64a1.2 1.2 0 1 0 2.4 0a1.2 1.2 0 1 0 -2.4 0M265.84 353.84a1.2 1.2 0 1 0 2.4 0a1.2 1.2 0 1 0 -2.4 0M270.25 354.03a1.2 1.2 0 1 0 2.4 0a1.2 1.2 0 1 0 -2.4 0M274.65 354.21a1.2 1.2 0 1 0 2.4 0a1.2 1.2 0 1 0 -2.4 0M279.06 354.38a1.2 1.2 0 1 0 2.4 0a1.2 1.2 0 1 0 -2.4 0M283.46 354.53a1.2 1.2 0 1 0 2.4 0a1.2 1.2 0 1 0 -2.4 0M287.87 354.67a1.2 1.2 0 1 0 2.4 0a1.2 1.2 0 1 0 -2.4 0M292.28 354.80a1.2 1.2 0 1 0 2.4 0a1.2 1.2 0 1 0 -2.4 0M296.69 354.92a1.2 1.2 0 1 0 2.4 0a1.2 1.2 0 1 0 -2.4 0M301.09 355.02a1.2 1.2 0 1 0 2.4 0a1.2 1.2 0 1 0 -2.4 0M305.50 355.11a1.2 1.2 0 1 0 2.4 0a1.2 1.2 0 1 0 -2.4 0M309.91 355.19a1.2 1.2 0 1 0 2.4 0a1.2 1.2 0 1 0 -2.4 0M314.32 355.27a1.2 1.2 0 1 0 2.4 0a1.2 1.2 0 1 0 -2.4 0M318.73 355.35a1.2 1.2 0 1 0 2.4 0a1.2 1.2 0 1 0 -2.4 0M323.14 355.42a1.2 1.2 0 1 0 2.4 0a1.2 1.2 0 1 0 -2.4 0M327.55 355.48a1.2 1.2 0 1 0 2.4 0a1.2 1.2 0 1 0 -2.4 0M331.96 355.54a1.2 1.2 0 1 0 2.4 0a1.2 1.2 0 1 0 -2.4 0M336.37 355.59a1.2 1.2 0 1 0 2.4 0a1.2 1.2 0 1 0 -2.4 0M340.78 355.64a1.2 1.2 0 1 0 2.4 0a1.2 1.2 0 1 0 -2.4 0M345.19 355.68a1.2 1.2 0 1 0 2.4 0a1.2 1.2 0 1 0 -2.4 0M349.60 355.71a1.2 1.2 0 1 0 2.4 0a1.2 1.2 0 1 0 -2.4 0M354.01 355.73a1.2 1.2 0 1 0 2.4 0a1.2 1.2 0 1 0 -2.4 0M358.42 355.76a1.2 1.2 0 1 0 2.4 0a1.2 1.2 0 1 0 -2.4 0M362.83 355.78a1.2 1.2 0 1 0 2.4 0a1.2 1.2 0 1 0 -2.4 0M367.24 355.80a1.2 1.2 0 1 0 2.4 0a1.2 1.2 0 1 0 -2.4 0M371.65 355.82a1.2 1.2 0 1 0 2.4 0a1.2 1.2 0 1 0 -2.4 0M376.06 355.84a1.2 1.2 0 1 0 2.4 0a1.2 1.2 0 1 0 -2.4 0M380.47 355.85a1.2 1.2 0 1 0 2.4 0a1.2 1.2 0 1 0 -2.4 0M384.88 355.87a1.2 1.2 0 1 0 2.4 0a1.2 1.2 0 1 0 -2.4 0M389.29 355.88a1.2 1.2 0 1 0 2.4 0a1.2 1.2 0 1 0 -2.4 0M393.70 355.89a1.2 1.2 0 1 0 2.4 0a1.2 1.2 0 1 0 -2.4 0M398.11 355.90a1.2 1.2 0 1 0 2.4 0a1.2 1.2 0 1 0 -2.4 0M402.52 355.92a1.2 1.2 0 1 0 2.4 0a1.2 1.2 0 1 0 -2.4 0M406.93 355.93a1.2 1.2 0 1 0 2.4 0a1.2 1.2 0 1 0 -2.4 0M411.34 355.94a1.2 1.2 0 1 0 2.4 0a1.2 1.2 0 1 0 -2.4 0M415.75 355.95a1.2 1.2 0 1 0 2.4 0a1.2 1.2 0 1 0 -2.4 0M420.16 355.97a1.2 1.2 0 1 0 2.4 0a1.2 1.2 0 1 0 -2.4 0M424.57 355.98a1.2 1.2 0 1 0 2.4 0a1.2 1.2 0 1 0 -2.4 0M428.98 355.98a1.2 1.2 0 1 0 2.4 0a1.2 1.2 0 1 0 -2.4 0M433.39 355.99a1.2 1.2 0 1 0 2.4 0a1.2 1.2 0 1 0 -2.4 0M437.80 356.00a1.2 1.2 0 1 0 2.4 0a1.2 1.2 0 1 0 -2.4 0M442.21 356.00a1.2 1.2 0 1 0 2.4 0a1.2 1.2 0 1 0 -2.4 0M446.62 356.00a1.2 1.2 0 1 0 2.4 0a1.2 1.2 0 1 0 -2.4 0M451.03 356.00a1.2 1.2 0 1 0 2.4 0a1.2 1.2 0 1 0 -2.4 0M455.44 356.00a1.2 1.2 0 1 0 2.4 0a1.2 1.2 0 1 0 -2.4 0M459.85 356.00a1.2 1.2 0 1 0 2.4 0a1.2 1.2 0 1 0 -2.4 0M464.26 356.00a1.2 1.2 0 1 0 2.4 0a1.2 1.2 0 1 0 -2.4 0M468.67 356.00a1.2 1.2 0 1 0 2.4 0a1.2 1.2 0 1 0 -2.4 0M473.08 356.00a1.2 1.2 0 1 0 2.4 0a1.2 1.2 0 1 0 -2.4 0M477.49 356.00a1.2 1.2 0 1 0 2.4 0a1.2 1.2 0 1 0 -2.4 0M481.90 356.00a1.2 1.2 0 1 0 2.4 0a1.2 1.2 0 1 0 -2.4 0M486.31 356.00a1.2 1.2 0 1 0 2.4 0a1.2 1.2 0 1 0 -2.4 0M490.72 356.00a1.2 1.2 0 1 0 2.4 0a1.2 1.2 0 1 0 -2.4 0M495.13 356.00a1.2 1.2 0 1 0 2.4 0a1.2 1.2 0 1 0 -2.4 0M499.54 356.00a1.2 1.2 0 1 0 2.4 0a1.2 1.2 0 1 0 -2.4 0M503.95 356.00a1.2 1.2 0 1 0 2.4 0a1.2 1.2 0 1 0 -2.4 0M508.36 356.00a1.2 1.2 0 1 0 2.4 0a1.2 1.2 0 1 0 -2.4 0M512.77 356.00a1.2 1.2 0 1 0 2.4 0a1.2 1.2 0 1 0 -2.4 0M517.18 356.00a1.2 1.2 0 1 0 2.4 0a1.2 1.2 0 1 0 -2.4 0M521.59 356.00a1.2 1.2 0 1 0 2.4 0a1.2 1.2 0 1 0 -2.4 0M526.00 356.00a1.2 1.2 0 1 0 2.4 0a1.2 1.2 0 1 0 -2.4 0M530.41 356.00a1.2 1.2 0 1 0 2.4 0a1.2 1.2 0 1 0 -2.4 0M534.82 356.00a1.2 1.2 0 1 0 2.4 0a1.2 1.2 0 1 0 -2.4 0M539.23 356.00a1.2 1.2 0 1 0 2.4 0a1.2 1.2 0 1 0 -2.4 0M59.70 240.00a1.2 1.2 0 1 0 2.4 0a1.2 1.2 0 1 0 -2.4 0M61.73 243.48a1.2 1.2 0 1 0 2.4 0a1.2 1.2 0 1 0 -2.4 0M63.79 246.96a1.2 1.2 0 1 0 2.4 0a1.2 1.2 0 1 0 -2.4 0M65.86 250.42a1.2 1.2 0 1 0 2.4 0a1.2 1.2 0 1 0 -2.4 0M67.96 253.87a1.2 1.2 0 1 0 2.4 0a1.2 1.2 0 1 0 -2.4 0M70.08 257.32a1.2 1.2 0 1 0 2.4 0a1.2 1.2 0 1 0 -2.4 0M72.22 260.75a1.2 1.2 0 1 0 2.4 0a1.2 1.2 0 1 0 -2.4 0M74.39 264.16a1.2 1.2 0 1 0 2.4 0a1.2 1.2 0 1 0 -2.4 0M76.58 267.57a1.2 1.2 0 1 0 2.4 0a1.2 1.2 0 1 0 -2.4 0M78.80 270.96a1.2 1.2 0 1 0 2.4 0a1.2 1.2 0 1 0 -2.4 0M81.06 274.33a1.2 1.2 0 1 0 2.4 0a1.2 1.2 0 1 0 -2.4 0M83.34 277.69a1.2 1.2 0 1 0 2.4 0a1.2 1.2 0 1 0 -2.4 0M85.65 281.03a1.2 1.2 0 1 0 2.4 0a1.2 1.2 0 1 0 -2.4 0M87.96 284.38a1.2 1.2 0 1 0 2.4 0a1.2 1.2 0 1 0 -2.4 0M90.27 287.72a1.2 1.2 0 1 0 2.4 0a1.2 1.2 0 1 0 -2.4 0M92.61 291.05a1.2 1.2 0 1 0 2.4 0a1.2 1.2 0 1 0 -2.4 0M94.98 294.36a1.2 1.2 0 1 0 2.4 0a1.2 1.2 0 1 0 -2.4 0M97.39 297.64a1.2 1.2 0 1 0 2.4 0a1.2 1.2 0 1 0 -2.4 0M99.86 300.90a1.2 1.2 0 1 0 2.4 0a1.2 1.2 0 1 0 -2.4 0M102.41 304.10a1.2 1.2 0 1 0 2.4 0a1.2 1.2 0 1 0 -2.4 0M105.05 307.24a1.2 1.2 0 1 0 2.4 0a1.2 1.2 0 1 0 -2.4 0M107.82 310.29a1.2 1.2 0 1 0 2.4 0a1.2 1.2 0 1 0 -2.4 0M110.69 313.27a1.2 1.2 0 1 0 2.4 0a1.2 1.2 0 1 0 -2.4 0M113.62 316.21a1.2 1.2 0 1 0 2.4 0a1.2 1.2 0 1 0 -2.4 0M116.61 319.09a1.2 1.2 0 1 0 2.4 0a1.2 1.2 0 1 0 -2.4 0M119.68 321.91a1.2 1.2 0 1 0 2.4 0a1.2 1.2 0 1 0 -2.4 0M122.85 324.64a1.2 1.2 0 1 0 2.4 0a1.2 1.2 0 1 0 -2.4 0M126.13 327.26a1.2 1.2 0 1 0 2.4 0a1.2 1.2 0 1 0 -2.4 0M129.54 329.75a1.2 1.2 0 1 0 2.4 0a1.2 1.2 0 1 0 -2.4 0M133.11 332.06a1.2 1.2 0 1 0 2.4 0a1.2 1.2 0 1 0 -2.4 0M136.77 334.24a1.2 1.2 0 1 0 2.4 0a1.2 1.2 0 1 0 -2.4 0M140.51 336.32a1.2 1.2 0 1 0 2.4 0a1.2 1.2 0 1 0 -2.4 0M144.34 338.27a1.2 1.2 0 1 0 2.4 0a1.2 1.2 0 1 0 -2.4 0M148.24 340.09a1.2 1.2 0 1 0 2.4 0a1.2 1.2 0 1 0 -2.4 0M152.23 341.78a1.2 1.2 0 1 0 2.4 0a1.2 1.2 0 1 0 -2.4 0M156.28 343.32a1.2 1.2 0 1 0 2.4 0a1.2 1.2 0 1 0 -2.4 0M160.39 344.75a1.2 1.2 0 1 0 2.4 0a1.2 1.2 0 1 0 -2.4 0M164.53 346.11a1.2 1.2 0 1 0 2.4 0a1.2 1.2 0 1 0 -2.4 0M168.70 347.37a1.2 1.2 0 1 0 2.4 0a1.2 1.2 0 1 0 -2.4 0M172.93 348.49a1.2 1.2 0 1 0 2.4 0a1.2 1.2 0 1 0 -2.4 0M177.20 349.47a1.2 1.2 0 1 0 2.4 0a1.2 1.2 0 1 0 -2.4 0M181.52 350.25a1.2 1.2 0 1 0 2.4 0a1.2 1.2 0 1 0 -2.4 0M185.86 350.93a1.2 1.2 0 1 0 2.4 0a1.2 1.2 0 1 0 -2.4 0M190.22 351.53a1.2 1.2 0 1 0 2.4 0a1.2 1.2 0 1 0 -2.4 0M194.59 352.06a1.2 1.2 0 1 0 2.4 0a1.2 1.2 0 1 0 -2.4 0M198.97 352.52a1.2 1.2 0 1 0 2.4 0a1.2 1.2 0 1 0 -2.4 0M203.35 352.94a1.2 1.2 0 1 0 2.4 0a1.2 1.2 0 1 0 -2.4 0M207.74 353.31a1.2 1.2 0 1 0 2.4 0a1.2 1.2 0 1 0 -2.4 0M212.14 353.65a1.2 1.2 0 1 0 2.4 0a1.2 1.2 0 1 0 -2.4 0M216.53 353.97a1.2 1.2 0 1 0 2.4 0a1.2 1.2 0 1 0 -2.4 0M220.93 354.24a1.2 1.2 0 1 0 2.4 0a1.2 1.2 0 1 0 -2.4 0M225.34 354.48a1.2 1.2 0 1 0 2.4 0a1.2 1.2 0 1 0 -2.4 0M229.74 354.66a1.2 1.2 0 1 0 2.4 0a1.2 1.2 0 1 0 -2.4 0M234.15 354.83a1.2 1.2 0 1 0 2.4 0a1.2 1.2 0 1 0 -2.4 0M238.55 354.97a1.2 1.2 0 1 0 2.4 0a1.2 1.2 0 1 0 -2.4 0M242.96 355.10a1.2 1.2 0 1 0 2.4 0a1.2 1.2 0 1 0 -2.4 0M247.37 355.21a1.2 1.2 0 1 0 2.4 0a1.2 1.2 0 1 0 -2.4 0M251.78 355.29a1.2 1.2 0 1 0 2.4 0a1.2 1.2 0 1 0 -2.4 0M256.19 355.36a1.2 1.2 0 1 0 2.4 0a1.2 1.2 0 1 0 -2.4 0M260.60 355.43a1.2 1.2 0 1 0 2.4 0a1.2 1.2 0 1 0 -2.4 0M265.01 355.48a1.2 1.2 0 1 0 2.4 0a1.2 1.2 0 1 0 -2.4 0M269.42 355.54a1.2 1.2 0 1 0 2.4 0a1.2 1.2 0 1 0 -2.4 0M273.83 355.59a1.2 1.2 0 1 0 2.4 0a1.2 1.2 0 1 0 -2.4 0M278.24 355.63a1.2 1.2 0 1 0 2.4 0a1.2 1.2 0 1 0 -2.4 0M282.65 355.67a1.2 1.2 0 1 0 2.4 0a1.2 1.2 0 1 0 -2.4 0M287.05 355.71a1.2 1.2 0 1 0 2.4 0a1.2 1.2 0 1 0 -2.4 0M291.46 355.74a1.2 1.2 0 1 0 2.4 0a1.2 1.2 0 1 0 -2.4 0M295.87 355.77a1.2 1.2 0 1 0 2.4 0a1.2 1.2 0 1 0 -2.4 0M300.28 355.80a1.2 1.2 0 1 0 2.4 0a1.2 1.2 0 1 0 -2.4 0M304.69 355.83a1.2 1.2 0 1 0 2.4 0a1.2 1.2 0 1 0 -2.4 0M309.10 355.85a1.2 1.2 0 1 0 2.4 0a1.2 1.2 0 1 0 -2.4 0M313.51 355.88a1.2 1.2 0 1 0 2.4 0a1.2 1.2 0 1 0 -2.4 0M317.92 355.90a1.2 1.2 0 1 0 2.4 0a1.2 1.2 0 1 0 -2.4 0M322.33 355.93a1.2 1.2 0 1 0 2.4 0a1.2 1.2 0 1 0 -2.4 0M326.74 355.95a1.2 1.2 0 1 0 2.4 0a1.2 1.2 0 1 0 -2.4 0M331.15 355.96a1.2 1.2 0 1 0 2.4 0a1.2 1.2 0 1 0 -2.4 0M335.56 355.98a1.2 1.2 0 1 0 2.4 0a1.2 1.2 0 1 0 -2.4 0M339.97 355.99a1.2 1.2 0 1 0 2.4 0a1.2 1.2 0 1 0 -2.4 0M344.38 356.00a1.2 1.2 0 1 0 2.4 0a1.2 1.2 0 1 0 -2.4 0M348.79 356.00a1.2 1.2 0 1 0 2.4 0a1.2 1.2 0 1 0 -2.4 0M353.20 356.00a1.2 1.2 0 1 0 2.4 0a1.2 1.2 0 1 0 -2.4 0M357.61 356.00a1.2 1.2 0 1 0 2.4 0a1.2 1.2 0 1 0 -2.4 0M362.02 356.00a1.2 1.2 0 1 0 2.4 0a1.2 1.2 0 1 0 -2.4 0M366.43 356.00a1.2 1.2 0 1 0 2.4 0a1.2 1.2 0 1 0 -2.4 0M370.84 356.00a1.2 1.2 0 1 0 2.4 0a1.2 1.2 0 1 0 -2.4 0M375.25 356.00a1.2 1.2 0 1 0 2.4 0a1.2 1.2 0 1 0 -2.4 0M379.66 356.00a1.2 1.2 0 1 0 2.4 0a1.2 1.2 0 1 0 -2.4 0M384.07 356.00a1.2 1.2 0 1 0 2.4 0a1.2 1.2 0 1 0 -2.4 0M388.48 356.00a1.2 1.2 0 1 0 2.4 0a1.2 1.2 0 1 0 -2.4 0M392.89 356.00a1.2 1.2 0 1 0 2.4 0a1.2 1.2 0 1 0 -2.4 0M397.30 356.00a1.2 1.2 0 1 0 2.4 0a1.2 1.2 0 1 0 -2.4 0M401.71 356.00a1.2 1.2 0 1 0 2.4 0a1.2 1.2 0 1 0 -2.4 0M406.12 356.00a1.2 1.2 0 1 0 2.4 0a1.2 1.2 0 1 0 -2.4 0M410.53 356.00a1.2 1.2 0 1 0 2.4 0a1.2 1.2 0 1 0 -2.4 0M414.94 356.00a1.2 1.2 0 1 0 2.4 0a1.2 1.2 0 1 0 -2.4 0M419.35 356.00a1.2 1.2 0 1 0 2.4 0a1.2 1.2 0 1 0 -2.4 0M423.76 356.00a1.2 1.2 0 1 0 2.4 0a1.2 1.2 0 1 0 -2.4 0M428.17 356.00a1.2 1.2 0 1 0 2.4 0a1.2 1.2 0 1 0 -2.4 0M432.58 356.00a1.2 1.2 0 1 0 2.4 0a1.2 1.2 0 1 0 -2.4 0M436.99 356.00a1.2 1.2 0 1 0 2.4 0a1.2 1.2 0 1 0 -2.4 0M441.40 356.00a1.2 1.2 0 1 0 2.4 0a1.2 1.2 0 1 0 -2.4 0M445.81 356.00a1.2 1.2 0 1 0 2.4 0a1.2 1.2 0 1 0 -2.4 0M450.22 356.00a1.2 1.2 0 1 0 2.4 0a1.2 1.2 0 1 0 -2.4 0M454.63 356.00a1.2 1.2 0 1 0 2.4 0a1.2 1.2 0 1 0 -2.4 0M459.04 356.00a1.2 1.2 0 1 0 2.4 0a1.2 1.2 0 1 0 -2.4 0M463.45 356.00a1.2 1.2 0 1 0 2.4 0a1.2 1.2 0 1 0 -2.4 0M467.86 356.00a1.2 1.2 0 1 0 2.4 0a1.2 1.2 0 1 0 -2.4 0M472.27 356.00a1.2 1.2 0 1 0 2.4 0a1.2 1.2 0 1 0 -2.4 0M476.68 356.00a1.2 1.2 0 1 0 2.4 0a1.2 1.2 0 1 0 -2.4 0M481.09 356.00a1.2 1.2 0 1 0 2.4 0a1.2 1.2 0 1 0 -2.4 0M485.50 356.00a1.2 1.2 0 1 0 2.4 0a1.2 1.2 0 1 0 -2.4 0M489.91 356.00a1.2 1.2 0 1 0 2.4 0a1.2 1.2 0 1 0 -2.4 0M494.32 356.00a1.2 1.2 0 1 0 2.4 0a1.2 1.2 0 1 0 -2.4 0M498.73 356.00a1.2 1.2 0 1 0 2.4 0a1.2 1.2 0 1 0 -2.4 0M503.14 356.00a1.2 1.2 0 1 0 2.4 0a1.2 1.2 0 1 0 -2.4 0M507.55 356.00a1.2 1.2 0 1 0 2.4 0a1.2 1.2 0 1 0 -2.4 0M511.96 356.00a1.2 1.2 0 1 0 2.4 0a1.2 1.2 0 1 0 -2.4 0M516.37 356.00a1.2 1.2 0 1 0 2.4 0a1.2 1.2 0 1 0 -2.4 0M520.78 356.00a1.2 1.2 0 1 0 2.4 0a1.2 1.2 0 1 0 -2.4 0M525.19 356.00a1.2 1.2 0 1 0 2.4 0a1.2 1.2 0 1 0 -2.4 0M529.60 356.00a1.2 1.2 0 1 0 2.4 0a1.2 1.2 0 1 0 -2.4 0M534.01 356.00a1.2 1.2 0 1 0 2.4 0a1.2 1.2 0 1 0 -2.4 0M538.42 356.00a1.2 1.2 0 1 0 2.4 0a1.2 1.2 0 1 0 -2.4 0" fill="#1a0cb8"/>
<g font-family="Liberation Sans, sans-serif" font-size="14" fill="#2a2a2a">
<text transform="translate(53.0,361.60) scale(1,0.89)" text-anchor="end">0</text>
<text transform="translate(53.0,318.38) scale(1,0.89)" text-anchor="end">0.05</text>
<text transform="translate(53.0,275.15) scale(1,0.89)" text-anchor="end">0.1</text>
<text transform="translate(53.0,231.92) scale(1,0.89)" text-anchor="end">0.15</text>
<text transform="translate(53.0,188.70) scale(1,0.89)" text-anchor="end">0.2</text>
<text transform="translate(53.0,145.47) scale(1,0.89)" text-anchor="end">0.25</text>
<text transform="translate(53.0,102.25) scale(1,0.89)" text-anchor="end">0.3</text>
<text transform="translate(53.0,59.02) scale(1,0.89)" text-anchor="end">0.35</text>
<text transform="translate(53.0,15.80) scale(1,0.89)" text-anchor="end">0.4</text>
<text transform="translate(60.40,375.1) scale(1,0.89)" text-anchor="middle">0</text>
<text transform="translate(108.53,375.1) scale(1,0.89)" text-anchor="middle">0.5</text>
<text transform="translate(156.66,375.1) scale(1,0.89)" text-anchor="middle">1</text>
<text transform="translate(204.79,375.1) scale(1,0.89)" text-anchor="middle">1.5</text>
<text transform="translate(252.92,375.1) scale(1,0.89)" text-anchor="middle">2</text>
<text transform="translate(301.05,375.1) scale(1,0.89)" text-anchor="middle">2.5</text>
<text transform="translate(349.18,375.1) scale(1,0.89)" text-anchor="middle">3</text>
<text transform="translate(397.31,375.1) scale(1,0.89)" text-anchor="middle">3.5</text>
<text transform="translate(445.44,375.1) scale(1,0.89)" text-anchor="middle">4</text>
<text transform="translate(493.57,375.1) scale(1,0.89)" text-anchor="middle">4.5</text>
<text transform="translate(541.70,375.1) scale(1,0.89)" text-anchor="middle">5</text>
</g>
<text x="301.3" y="397.8" font-family="Liberation Serif, serif" font-style="italic" font-size="16" fill="#444" text-anchor="middle">ζ</text>
<text transform="translate(17.8,183.5) rotate(-90)" x="0" y="0" font-family="Liberation Serif, serif" font-style="italic" font-size="16" fill="#444" text-anchor="middle">θ(ζ)</text>
<line x1="96.0" y1="334.6" x2="219.41" y2="220.71" stroke="#000" stroke-width="2.6" stroke-linecap="round"/>
<path d="M230.8 210.2 L220.56 230.81 L219.41 220.71 L210.08 218.71 Z" fill="#000"/>
<text transform="translate(224.0,199.8) scale(1,0.89)" font-family="Liberation Sans, sans-serif" font-size="14" fill="#333">Nr=0.5,1,1.5</text>
<g font-family="Liberation Sans, sans-serif" font-weight="bold" font-size="24" fill="#141018" stroke="#141018" stroke-width="0.45">
<text transform="translate(337.10,61.2) scale(0.58,1)" textLength="66.47" lengthAdjust="spacing">Solid</text>
<text transform="translate(337.55,61.2) scale(0.58,1)" textLength="66.47" lengthAdjust="spacing">Solid</text>
<text transform="translate(418.20,61.2) scale(0.58,1)" textLength="72.67" lengthAdjust="spacing">Plate</text>
<text transform="translate(418.65,61.2) scale(0.58,1)" textLength="72.67" lengthAdjust="spacing">Plate</text>
<text transform="translate(337.10,89.8) scale(0.58,1)" textLength="100.60" lengthAdjust="spacing">Dashed</text>
<text transform="translate(337.55,89.8) scale(0.58,1)" textLength="100.60" lengthAdjust="spacing">Dashed</text>
<text transform="translate(414.00,89.8) scale(0.58,1)" textLength="86.81" lengthAdjust="spacing">Wedge</text>
<text transform="translate(414.45,89.8) scale(0.58,1)" textLength="86.81" lengthAdjust="spacing">Wedge</text>
<text transform="translate(337.50,118.0) scale(0.58,1)" textLength="88.36" lengthAdjust="spacing">Dotted</text>
<text transform="translate(337.95,118.0) scale(0.58,1)" textLength="88.36" lengthAdjust="spacing">Dotted</text>
<text transform="translate(413.00,118.0) scale(0.58,1)" textLength="65.26" lengthAdjust="spacing">Cone</text>
<text transform="translate(413.45,118.0) scale(0.58,1)" textLength="65.26" lengthAdjust="spacing">Cone</text>
</g>
<rect x="404.90" y="48.15" width="3" height="3" rx="0.6" fill="#111"/>
<rect x="404.90" y="58.50" width="3" height="3" rx="0.6" fill="#111"/>
<rect x="406.10" y="76.90" width="3" height="3" rx="0.6" fill="#111"/>
<rect x="406.10" y="87.50" width="3" height="3" rx="0.6" fill="#111"/>
<rect x="403.90" y="105.90" width="3" height="3" rx="0.6" fill="#111"/>
<rect x="403.90" y="116.20" width="3" height="3" rx="0.6" fill="#111"/>
</svg></body></html>
